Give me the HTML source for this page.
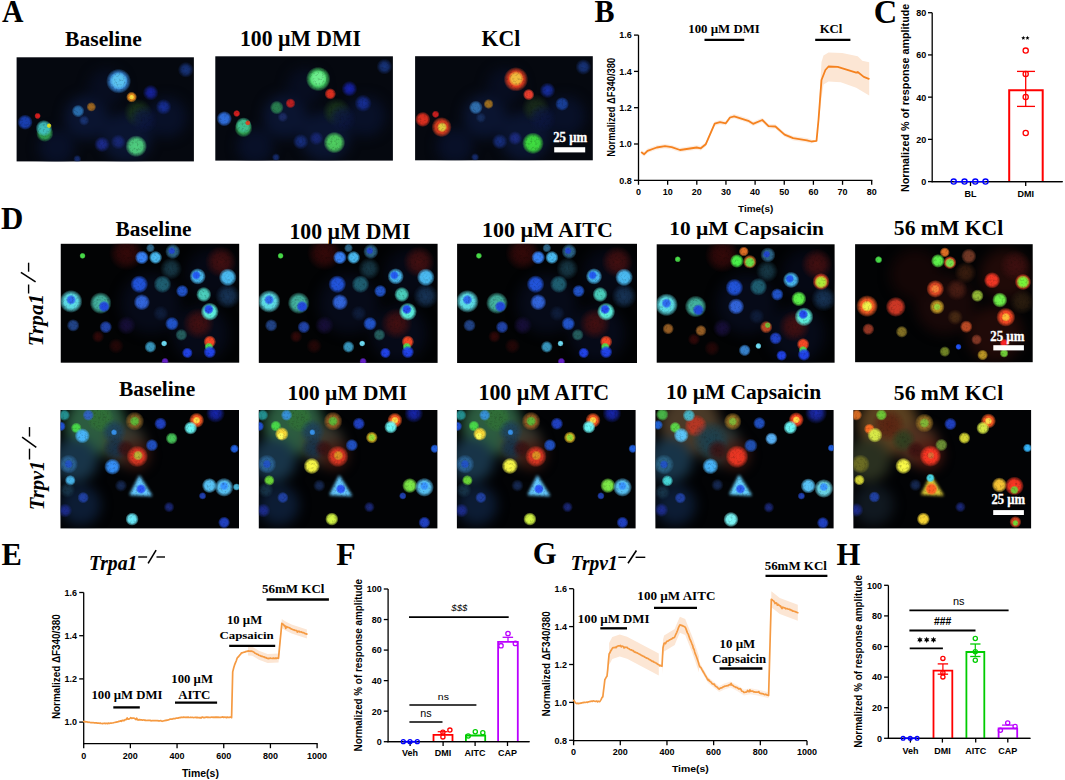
<!DOCTYPE html>
<html><head><meta charset="utf-8"><title>Figure</title>
<style>html,body{margin:0;padding:0;background:#fff;}body{width:1065px;height:780px;overflow:hidden;font-family:"Liberation Sans",sans-serif;}svg{display:block;}</style>
</head><body>
<svg width="1065" height="780" viewBox="0 0 1065 780">
<defs><filter id="bl" x="-20%" y="-20%" width="140%" height="140%" color-interpolation-filters="sRGB"><feGaussianBlur in="SourceGraphic" stdDeviation="0.7" result="b"/><feTurbulence type="fractalNoise" baseFrequency="0.45" numOctaves="2" seed="7" result="n"/><feColorMatrix in="n" type="matrix" values="0 0 0 0.55 0.72  0 0 0 0.55 0.72  0 0 0 0.55 0.72  0 0 0 0 1" result="m"/><feComposite in="b" in2="m" operator="arithmetic" k1="1" k2="0" k3="0" k4="0"/></filter><filter id="blT" x="-30%" y="-30%" width="160%" height="160%" color-interpolation-filters="sRGB"><feGaussianBlur stdDeviation="1.4"/></filter><filter id="blH" x="-50%" y="-50%" width="200%" height="200%" color-interpolation-filters="sRGB"><feGaussianBlur stdDeviation="6"/></filter><radialGradient id="g1c3a1c"><stop offset="0" stop-color="#1c3a1c" stop-opacity="0.9"/><stop offset="0.5" stop-color="#1c3a1c" stop-opacity="0.7"/><stop offset="1" stop-color="#1c3a1c" stop-opacity="0"/></radialGradient><radialGradient id="g0c1640"><stop offset="0" stop-color="#0c1640" stop-opacity="0.9"/><stop offset="0.5" stop-color="#0c1640" stop-opacity="0.7"/><stop offset="1" stop-color="#0c1640" stop-opacity="0"/></radialGradient><radialGradient id="g1a3a8a"><stop offset="0" stop-color="#1a3a8a" stop-opacity="0.9"/><stop offset="0.5" stop-color="#1a3a8a" stop-opacity="0.7"/><stop offset="1" stop-color="#1a3a8a" stop-opacity="0"/></radialGradient><radialGradient id="g3a90e8"><stop offset="0" stop-color="#3a90e8" stop-opacity="1"/><stop offset="0.6" stop-color="#3a90e8" stop-opacity="0.93"/><stop offset="0.84" stop-color="#3a90e8" stop-opacity="0.45"/><stop offset="1" stop-color="#3a90e8" stop-opacity="0"/></radialGradient><radialGradient id="g5cc4f0"><stop offset="0" stop-color="#5cc4f0" stop-opacity="1"/><stop offset="0.6" stop-color="#5cc4f0" stop-opacity="0.93"/><stop offset="0.84" stop-color="#5cc4f0" stop-opacity="0.45"/><stop offset="1" stop-color="#5cc4f0" stop-opacity="0"/></radialGradient><radialGradient id="gf09020"><stop offset="0" stop-color="#f09020" stop-opacity="1"/><stop offset="0.6" stop-color="#f09020" stop-opacity="0.93"/><stop offset="0.84" stop-color="#f09020" stop-opacity="0.45"/><stop offset="1" stop-color="#f09020" stop-opacity="0"/></radialGradient><radialGradient id="gf8e040"><stop offset="0" stop-color="#f8e040" stop-opacity="1"/><stop offset="0.6" stop-color="#f8e040" stop-opacity="0.93"/><stop offset="0.84" stop-color="#f8e040" stop-opacity="0.45"/><stop offset="1" stop-color="#f8e040" stop-opacity="0"/></radialGradient><radialGradient id="g1926b3"><stop offset="0" stop-color="#1926b3" stop-opacity="0.9"/><stop offset="0.5" stop-color="#1926b3" stop-opacity="0.7"/><stop offset="1" stop-color="#1926b3" stop-opacity="0"/></radialGradient><radialGradient id="g1933a6"><stop offset="0" stop-color="#1933a6" stop-opacity="0.9"/><stop offset="0.5" stop-color="#1933a6" stop-opacity="0.7"/><stop offset="1" stop-color="#1933a6" stop-opacity="0"/></radialGradient><radialGradient id="g2a70b0"><stop offset="0" stop-color="#2a70b0" stop-opacity="1"/><stop offset="0.6" stop-color="#2a70b0" stop-opacity="0.93"/><stop offset="0.84" stop-color="#2a70b0" stop-opacity="0.45"/><stop offset="1" stop-color="#2a70b0" stop-opacity="0"/></radialGradient><radialGradient id="ga06820"><stop offset="0" stop-color="#a06820" stop-opacity="1"/><stop offset="0.6" stop-color="#a06820" stop-opacity="0.93"/><stop offset="0.84" stop-color="#a06820" stop-opacity="0.45"/><stop offset="1" stop-color="#a06820" stop-opacity="0"/></radialGradient><radialGradient id="g1c3a80"><stop offset="0" stop-color="#1c3a80" stop-opacity="0.9"/><stop offset="0.5" stop-color="#1c3a80" stop-opacity="0.7"/><stop offset="1" stop-color="#1c3a80" stop-opacity="0"/></radialGradient><radialGradient id="g1940b3"><stop offset="0" stop-color="#1940b3" stop-opacity="1"/><stop offset="0.6" stop-color="#1940b3" stop-opacity="0.93"/><stop offset="0.84" stop-color="#1940b3" stop-opacity="0.45"/><stop offset="1" stop-color="#1940b3" stop-opacity="0"/></radialGradient><radialGradient id="ge02020"><stop offset="0" stop-color="#e02020" stop-opacity="1"/><stop offset="0.6" stop-color="#e02020" stop-opacity="0.93"/><stop offset="0.84" stop-color="#e02020" stop-opacity="0.45"/><stop offset="1" stop-color="#e02020" stop-opacity="0"/></radialGradient><radialGradient id="g30a050"><stop offset="0" stop-color="#30a050" stop-opacity="1"/><stop offset="0.6" stop-color="#30a050" stop-opacity="0.93"/><stop offset="0.84" stop-color="#30a050" stop-opacity="0.45"/><stop offset="1" stop-color="#30a050" stop-opacity="0"/></radialGradient><radialGradient id="g40c0c0"><stop offset="0" stop-color="#40c0c0" stop-opacity="1"/><stop offset="0.6" stop-color="#40c0c0" stop-opacity="0.93"/><stop offset="0.84" stop-color="#40c0c0" stop-opacity="0.45"/><stop offset="1" stop-color="#40c0c0" stop-opacity="0"/></radialGradient><radialGradient id="ge0e020"><stop offset="0" stop-color="#e0e020" stop-opacity="1"/><stop offset="0.6" stop-color="#e0e020" stop-opacity="0.93"/><stop offset="0.84" stop-color="#e0e020" stop-opacity="0.45"/><stop offset="1" stop-color="#e0e020" stop-opacity="0"/></radialGradient><radialGradient id="g50d080"><stop offset="0" stop-color="#50d080" stop-opacity="1"/><stop offset="0.6" stop-color="#50d080" stop-opacity="0.93"/><stop offset="0.84" stop-color="#50d080" stop-opacity="0.45"/><stop offset="1" stop-color="#50d080" stop-opacity="0"/></radialGradient><radialGradient id="g2030a0"><stop offset="0" stop-color="#2030a0" stop-opacity="0.9"/><stop offset="0.5" stop-color="#2030a0" stop-opacity="0.7"/><stop offset="1" stop-color="#2030a0" stop-opacity="0"/></radialGradient><radialGradient id="g1a2a80"><stop offset="0" stop-color="#1a2a80" stop-opacity="0.9"/><stop offset="0.5" stop-color="#1a2a80" stop-opacity="0.7"/><stop offset="1" stop-color="#1a2a80" stop-opacity="0"/></radialGradient><radialGradient id="g193380"><stop offset="0" stop-color="#193380" stop-opacity="0.9"/><stop offset="0.5" stop-color="#193380" stop-opacity="0.7"/><stop offset="1" stop-color="#193380" stop-opacity="0"/></radialGradient><radialGradient id="g48d868"><stop offset="0" stop-color="#48d868" stop-opacity="1"/><stop offset="0.6" stop-color="#48d868" stop-opacity="0.93"/><stop offset="0.84" stop-color="#48d868" stop-opacity="0.45"/><stop offset="1" stop-color="#48d868" stop-opacity="0"/></radialGradient><radialGradient id="g70f090"><stop offset="0" stop-color="#70f090" stop-opacity="1"/><stop offset="0.6" stop-color="#70f090" stop-opacity="0.93"/><stop offset="0.84" stop-color="#70f090" stop-opacity="0.45"/><stop offset="1" stop-color="#70f090" stop-opacity="0"/></radialGradient><radialGradient id="ge03020"><stop offset="0" stop-color="#e03020" stop-opacity="1"/><stop offset="0.6" stop-color="#e03020" stop-opacity="0.93"/><stop offset="0.84" stop-color="#e03020" stop-opacity="0.45"/><stop offset="1" stop-color="#e03020" stop-opacity="0"/></radialGradient><radialGradient id="g1926c0"><stop offset="0" stop-color="#1926c0" stop-opacity="0.9"/><stop offset="0.5" stop-color="#1926c0" stop-opacity="0.7"/><stop offset="1" stop-color="#1926c0" stop-opacity="0"/></radialGradient><radialGradient id="g2a8050"><stop offset="0" stop-color="#2a8050" stop-opacity="1"/><stop offset="0.6" stop-color="#2a8050" stop-opacity="0.93"/><stop offset="0.84" stop-color="#2a8050" stop-opacity="0.45"/><stop offset="1" stop-color="#2a8050" stop-opacity="0"/></radialGradient><radialGradient id="gc02020"><stop offset="0" stop-color="#c02020" stop-opacity="1"/><stop offset="0.6" stop-color="#c02020" stop-opacity="0.93"/><stop offset="0.84" stop-color="#c02020" stop-opacity="0.45"/><stop offset="1" stop-color="#c02020" stop-opacity="0"/></radialGradient><radialGradient id="g203070"><stop offset="0" stop-color="#203070" stop-opacity="0.9"/><stop offset="0.5" stop-color="#203070" stop-opacity="0.7"/><stop offset="1" stop-color="#203070" stop-opacity="0"/></radialGradient><radialGradient id="g3070e0"><stop offset="0" stop-color="#3070e0" stop-opacity="1"/><stop offset="0.6" stop-color="#3070e0" stop-opacity="0.93"/><stop offset="0.84" stop-color="#3070e0" stop-opacity="0.45"/><stop offset="1" stop-color="#3070e0" stop-opacity="0"/></radialGradient><radialGradient id="g40c090"><stop offset="0" stop-color="#40c090" stop-opacity="1"/><stop offset="0.6" stop-color="#40c090" stop-opacity="0.93"/><stop offset="0.84" stop-color="#40c090" stop-opacity="0.45"/><stop offset="1" stop-color="#40c090" stop-opacity="0"/></radialGradient><radialGradient id="ge04020"><stop offset="0" stop-color="#e04020" stop-opacity="1"/><stop offset="0.6" stop-color="#e04020" stop-opacity="0.93"/><stop offset="0.84" stop-color="#e04020" stop-opacity="0.45"/><stop offset="1" stop-color="#e04020" stop-opacity="0"/></radialGradient><radialGradient id="g50d060"><stop offset="0" stop-color="#50d060" stop-opacity="1"/><stop offset="0.6" stop-color="#50d060" stop-opacity="0.93"/><stop offset="0.84" stop-color="#50d060" stop-opacity="0.45"/><stop offset="1" stop-color="#50d060" stop-opacity="0"/></radialGradient><radialGradient id="g19338c"><stop offset="0" stop-color="#19338c" stop-opacity="0.9"/><stop offset="0.5" stop-color="#19338c" stop-opacity="0.7"/><stop offset="1" stop-color="#19338c" stop-opacity="0"/></radialGradient><radialGradient id="g1c301c"><stop offset="0" stop-color="#1c301c" stop-opacity="0.9"/><stop offset="0.5" stop-color="#1c301c" stop-opacity="0.7"/><stop offset="1" stop-color="#1c301c" stop-opacity="0"/></radialGradient><radialGradient id="gf04020"><stop offset="0" stop-color="#f04020" stop-opacity="1"/><stop offset="0.6" stop-color="#f04020" stop-opacity="0.93"/><stop offset="0.84" stop-color="#f04020" stop-opacity="0.45"/><stop offset="1" stop-color="#f04020" stop-opacity="0"/></radialGradient><radialGradient id="gf0c040"><stop offset="0" stop-color="#f0c040" stop-opacity="1"/><stop offset="0.6" stop-color="#f0c040" stop-opacity="0.93"/><stop offset="0.84" stop-color="#f0c040" stop-opacity="0.45"/><stop offset="1" stop-color="#f0c040" stop-opacity="0"/></radialGradient><radialGradient id="gf04030"><stop offset="0" stop-color="#f04030" stop-opacity="1"/><stop offset="0.6" stop-color="#f04030" stop-opacity="0.93"/><stop offset="0.84" stop-color="#f04030" stop-opacity="0.45"/><stop offset="1" stop-color="#f04030" stop-opacity="0"/></radialGradient><radialGradient id="g1933b3"><stop offset="0" stop-color="#1933b3" stop-opacity="0.9"/><stop offset="0.5" stop-color="#1933b3" stop-opacity="0.7"/><stop offset="1" stop-color="#1933b3" stop-opacity="0"/></radialGradient><radialGradient id="g194099"><stop offset="0" stop-color="#194099" stop-opacity="1"/><stop offset="0.6" stop-color="#194099" stop-opacity="0.93"/><stop offset="0.84" stop-color="#194099" stop-opacity="0.45"/><stop offset="1" stop-color="#194099" stop-opacity="0"/></radialGradient><radialGradient id="g3070b0"><stop offset="0" stop-color="#3070b0" stop-opacity="1"/><stop offset="0.6" stop-color="#3070b0" stop-opacity="0.93"/><stop offset="0.84" stop-color="#3070b0" stop-opacity="0.45"/><stop offset="1" stop-color="#3070b0" stop-opacity="0"/></radialGradient><radialGradient id="ga07020"><stop offset="0" stop-color="#a07020" stop-opacity="1"/><stop offset="0.6" stop-color="#a07020" stop-opacity="0.93"/><stop offset="0.84" stop-color="#a07020" stop-opacity="0.45"/><stop offset="1" stop-color="#a07020" stop-opacity="0"/></radialGradient><radialGradient id="g193366"><stop offset="0" stop-color="#193366" stop-opacity="0.9"/><stop offset="0.5" stop-color="#193366" stop-opacity="0.7"/><stop offset="1" stop-color="#193366" stop-opacity="0"/></radialGradient><radialGradient id="gd02020"><stop offset="0" stop-color="#d02020" stop-opacity="1"/><stop offset="0.6" stop-color="#d02020" stop-opacity="0.93"/><stop offset="0.84" stop-color="#d02020" stop-opacity="0.45"/><stop offset="1" stop-color="#d02020" stop-opacity="0"/></radialGradient><radialGradient id="ge0d040"><stop offset="0" stop-color="#e0d040" stop-opacity="1"/><stop offset="0.6" stop-color="#e0d040" stop-opacity="0.93"/><stop offset="0.84" stop-color="#e0d040" stop-opacity="0.45"/><stop offset="1" stop-color="#e0d040" stop-opacity="0"/></radialGradient><radialGradient id="g40e040"><stop offset="0" stop-color="#40e040" stop-opacity="1"/><stop offset="0.6" stop-color="#40e040" stop-opacity="0.93"/><stop offset="0.84" stop-color="#40e040" stop-opacity="0.45"/><stop offset="1" stop-color="#40e040" stop-opacity="0"/></radialGradient><radialGradient id="g203090"><stop offset="0" stop-color="#203090" stop-opacity="0.9"/><stop offset="0.5" stop-color="#203090" stop-opacity="0.7"/><stop offset="1" stop-color="#203090" stop-opacity="0"/></radialGradient><radialGradient id="g3a0a0a"><stop offset="0" stop-color="#3a0a0a" stop-opacity="0.9"/><stop offset="0.5" stop-color="#3a0a0a" stop-opacity="0.7"/><stop offset="1" stop-color="#3a0a0a" stop-opacity="0"/></radialGradient><radialGradient id="g4a1010"><stop offset="0" stop-color="#4a1010" stop-opacity="0.9"/><stop offset="0.5" stop-color="#4a1010" stop-opacity="0.7"/><stop offset="1" stop-color="#4a1010" stop-opacity="0"/></radialGradient><radialGradient id="g2a0808"><stop offset="0" stop-color="#2a0808" stop-opacity="0.9"/><stop offset="0.5" stop-color="#2a0808" stop-opacity="0.7"/><stop offset="1" stop-color="#2a0808" stop-opacity="0"/></radialGradient><radialGradient id="g1a1040"><stop offset="0" stop-color="#1a1040" stop-opacity="0.9"/><stop offset="0.5" stop-color="#1a1040" stop-opacity="0.7"/><stop offset="1" stop-color="#1a1040" stop-opacity="0"/></radialGradient><radialGradient id="g1a4050"><stop offset="0" stop-color="#1a4050" stop-opacity="0.9"/><stop offset="0.5" stop-color="#1a4050" stop-opacity="0.7"/><stop offset="1" stop-color="#1a4050" stop-opacity="0"/></radialGradient><radialGradient id="g1f6073"><stop offset="0" stop-color="#1f6073" stop-opacity="1"/><stop offset="0.6" stop-color="#1f6073" stop-opacity="0.93"/><stop offset="0.84" stop-color="#1f6073" stop-opacity="0.45"/><stop offset="1" stop-color="#1f6073" stop-opacity="0"/></radialGradient><radialGradient id="g1a3a60"><stop offset="0" stop-color="#1a3a60" stop-opacity="0.9"/><stop offset="0.5" stop-color="#1a3a60" stop-opacity="0.7"/><stop offset="1" stop-color="#1a3a60" stop-opacity="0"/></radialGradient><radialGradient id="g102040"><stop offset="0" stop-color="#102040" stop-opacity="0.9"/><stop offset="0.5" stop-color="#102040" stop-opacity="0.7"/><stop offset="1" stop-color="#102040" stop-opacity="0"/></radialGradient><radialGradient id="g60e6f0"><stop offset="0" stop-color="#60e6f0" stop-opacity="1"/><stop offset="0.6" stop-color="#60e6f0" stop-opacity="0.93"/><stop offset="0.84" stop-color="#60e6f0" stop-opacity="0.45"/><stop offset="1" stop-color="#60e6f0" stop-opacity="0"/></radialGradient><radialGradient id="g2d67f1"><stop offset="0" stop-color="#2d67f1" stop-opacity="1"/><stop offset="0.6" stop-color="#2d67f1" stop-opacity="0.93"/><stop offset="0.84" stop-color="#2d67f1" stop-opacity="0.45"/><stop offset="1" stop-color="#2d67f1" stop-opacity="0"/></radialGradient><radialGradient id="g45b6a3"><stop offset="0" stop-color="#45b6a3" stop-opacity="1"/><stop offset="0.6" stop-color="#45b6a3" stop-opacity="0.93"/><stop offset="0.84" stop-color="#45b6a3" stop-opacity="0.45"/><stop offset="1" stop-color="#45b6a3" stop-opacity="0"/></radialGradient><radialGradient id="g2245e0"><stop offset="0" stop-color="#2245e0" stop-opacity="1"/><stop offset="0.6" stop-color="#2245e0" stop-opacity="0.93"/><stop offset="0.84" stop-color="#2245e0" stop-opacity="0.45"/><stop offset="1" stop-color="#2245e0" stop-opacity="0"/></radialGradient><radialGradient id="g4ce64c"><stop offset="0" stop-color="#4ce64c" stop-opacity="1"/><stop offset="0.6" stop-color="#4ce64c" stop-opacity="0.93"/><stop offset="0.84" stop-color="#4ce64c" stop-opacity="0.45"/><stop offset="1" stop-color="#4ce64c" stop-opacity="0"/></radialGradient><radialGradient id="g3986ff"><stop offset="0" stop-color="#3986ff" stop-opacity="1"/><stop offset="0.6" stop-color="#3986ff" stop-opacity="0.93"/><stop offset="0.84" stop-color="#3986ff" stop-opacity="0.45"/><stop offset="1" stop-color="#3986ff" stop-opacity="0"/></radialGradient><radialGradient id="g4cc0f9"><stop offset="0" stop-color="#4cc0f9" stop-opacity="1"/><stop offset="0.6" stop-color="#4cc0f9" stop-opacity="0.93"/><stop offset="0.84" stop-color="#4cc0f9" stop-opacity="0.45"/><stop offset="1" stop-color="#4cc0f9" stop-opacity="0"/></radialGradient><radialGradient id="g2d678a"><stop offset="0" stop-color="#2d678a" stop-opacity="1"/><stop offset="0.6" stop-color="#2d678a" stop-opacity="0.93"/><stop offset="0.84" stop-color="#2d678a" stop-opacity="0.45"/><stop offset="1" stop-color="#2d678a" stop-opacity="0"/></radialGradient><radialGradient id="g2245cf"><stop offset="0" stop-color="#2245cf" stop-opacity="1"/><stop offset="0.6" stop-color="#2245cf" stop-opacity="0.93"/><stop offset="0.84" stop-color="#2245cf" stop-opacity="0.45"/><stop offset="1" stop-color="#2245cf" stop-opacity="0"/></radialGradient><radialGradient id="g2256e0"><stop offset="0" stop-color="#2256e0" stop-opacity="1"/><stop offset="0.6" stop-color="#2256e0" stop-opacity="0.93"/><stop offset="0.84" stop-color="#2256e0" stop-opacity="0.45"/><stop offset="1" stop-color="#2256e0" stop-opacity="0"/></radialGradient><radialGradient id="g3367e0"><stop offset="0" stop-color="#3367e0" stop-opacity="1"/><stop offset="0.6" stop-color="#3367e0" stop-opacity="0.93"/><stop offset="0.84" stop-color="#3367e0" stop-opacity="0.45"/><stop offset="1" stop-color="#3367e0" stop-opacity="0"/></radialGradient><radialGradient id="g2256f1"><stop offset="0" stop-color="#2256f1" stop-opacity="1"/><stop offset="0.6" stop-color="#2256f1" stop-opacity="0.93"/><stop offset="0.84" stop-color="#2256f1" stop-opacity="0.45"/><stop offset="1" stop-color="#2256f1" stop-opacity="0"/></radialGradient><radialGradient id="g2256cf"><stop offset="0" stop-color="#2256cf" stop-opacity="1"/><stop offset="0.6" stop-color="#2256cf" stop-opacity="0.93"/><stop offset="0.84" stop-color="#2256cf" stop-opacity="0.45"/><stop offset="1" stop-color="#2256cf" stop-opacity="0"/></radialGradient><radialGradient id="g4cd3c0"><stop offset="0" stop-color="#4cd3c0" stop-opacity="1"/><stop offset="0.6" stop-color="#4cd3c0" stop-opacity="0.93"/><stop offset="0.84" stop-color="#4cd3c0" stop-opacity="0.45"/><stop offset="1" stop-color="#4cd3c0" stop-opacity="0"/></radialGradient><radialGradient id="g60f9e6"><stop offset="0" stop-color="#60f9e6" stop-opacity="1"/><stop offset="0.6" stop-color="#60f9e6" stop-opacity="0.93"/><stop offset="0.84" stop-color="#60f9e6" stop-opacity="0.45"/><stop offset="1" stop-color="#60f9e6" stop-opacity="0"/></radialGradient><radialGradient id="g2245f1"><stop offset="0" stop-color="#2245f1" stop-opacity="1"/><stop offset="0.6" stop-color="#2245f1" stop-opacity="0.93"/><stop offset="0.84" stop-color="#2245f1" stop-opacity="0.45"/><stop offset="1" stop-color="#2245f1" stop-opacity="0"/></radialGradient><radialGradient id="gff4c26"><stop offset="0" stop-color="#ff4c26" stop-opacity="1"/><stop offset="0.6" stop-color="#ff4c26" stop-opacity="0.93"/><stop offset="0.84" stop-color="#ff4c26" stop-opacity="0.45"/><stop offset="1" stop-color="#ff4c26" stop-opacity="0"/></radialGradient><radialGradient id="g22458a"><stop offset="0" stop-color="#22458a" stop-opacity="1"/><stop offset="0.6" stop-color="#22458a" stop-opacity="0.93"/><stop offset="0.84" stop-color="#22458a" stop-opacity="0.45"/><stop offset="1" stop-color="#22458a" stop-opacity="0"/></radialGradient><radialGradient id="g2245ac"><stop offset="0" stop-color="#2245ac" stop-opacity="1"/><stop offset="0.6" stop-color="#2245ac" stop-opacity="0.93"/><stop offset="0.84" stop-color="#2245ac" stop-opacity="0.45"/><stop offset="1" stop-color="#2245ac" stop-opacity="0"/></radialGradient><radialGradient id="g266060"><stop offset="0" stop-color="#266060" stop-opacity="1"/><stop offset="0.6" stop-color="#266060" stop-opacity="0.93"/><stop offset="0.84" stop-color="#266060" stop-opacity="0.45"/><stop offset="1" stop-color="#266060" stop-opacity="0"/></radialGradient><radialGradient id="g3999c0"><stop offset="0" stop-color="#3999c0" stop-opacity="1"/><stop offset="0.6" stop-color="#3999c0" stop-opacity="0.93"/><stop offset="0.84" stop-color="#3999c0" stop-opacity="0.45"/><stop offset="1" stop-color="#3999c0" stop-opacity="0"/></radialGradient><radialGradient id="g73e6ff"><stop offset="0" stop-color="#73e6ff" stop-opacity="1"/><stop offset="0.6" stop-color="#73e6ff" stop-opacity="0.93"/><stop offset="0.84" stop-color="#73e6ff" stop-opacity="0.45"/><stop offset="1" stop-color="#73e6ff" stop-opacity="0"/></radialGradient><radialGradient id="g6722cf"><stop offset="0" stop-color="#6722cf" stop-opacity="1"/><stop offset="0.6" stop-color="#6722cf" stop-opacity="0.93"/><stop offset="0.84" stop-color="#6722cf" stop-opacity="0.45"/><stop offset="1" stop-color="#6722cf" stop-opacity="0"/></radialGradient><radialGradient id="ge67326"><stop offset="0" stop-color="#e67326" stop-opacity="1"/><stop offset="0.6" stop-color="#e67326" stop-opacity="0.93"/><stop offset="0.84" stop-color="#e67326" stop-opacity="0.45"/><stop offset="1" stop-color="#e67326" stop-opacity="0"/></radialGradient><radialGradient id="g4cf94c"><stop offset="0" stop-color="#4cf94c" stop-opacity="1"/><stop offset="0.6" stop-color="#4cf94c" stop-opacity="0.93"/><stop offset="0.84" stop-color="#4cf94c" stop-opacity="0.45"/><stop offset="1" stop-color="#4cf94c" stop-opacity="0"/></radialGradient><radialGradient id="g60e64c"><stop offset="0" stop-color="#60e64c" stop-opacity="1"/><stop offset="0.6" stop-color="#60e64c" stop-opacity="0.93"/><stop offset="0.84" stop-color="#60e64c" stop-opacity="0.45"/><stop offset="1" stop-color="#60e64c" stop-opacity="0"/></radialGradient><radialGradient id="gf94c26"><stop offset="0" stop-color="#f94c26" stop-opacity="1"/><stop offset="0.6" stop-color="#f94c26" stop-opacity="0.93"/><stop offset="0.84" stop-color="#f94c26" stop-opacity="0.45"/><stop offset="1" stop-color="#f94c26" stop-opacity="0"/></radialGradient><radialGradient id="gacf039"><stop offset="0" stop-color="#acf039" stop-opacity="1"/><stop offset="0.6" stop-color="#acf039" stop-opacity="0.93"/><stop offset="0.84" stop-color="#acf039" stop-opacity="0.45"/><stop offset="1" stop-color="#acf039" stop-opacity="0"/></radialGradient><radialGradient id="g60f94c"><stop offset="0" stop-color="#60f94c" stop-opacity="1"/><stop offset="0.6" stop-color="#60f94c" stop-opacity="0.93"/><stop offset="0.84" stop-color="#60f94c" stop-opacity="0.45"/><stop offset="1" stop-color="#60f94c" stop-opacity="0"/></radialGradient><radialGradient id="g996026"><stop offset="0" stop-color="#996026" stop-opacity="1"/><stop offset="0.6" stop-color="#996026" stop-opacity="0.93"/><stop offset="0.84" stop-color="#996026" stop-opacity="0.45"/><stop offset="1" stop-color="#996026" stop-opacity="0"/></radialGradient><radialGradient id="gc04c26"><stop offset="0" stop-color="#c04c26" stop-opacity="1"/><stop offset="0.6" stop-color="#c04c26" stop-opacity="0.93"/><stop offset="0.84" stop-color="#c04c26" stop-opacity="0.45"/><stop offset="1" stop-color="#c04c26" stop-opacity="0"/></radialGradient><radialGradient id="g73c039"><stop offset="0" stop-color="#73c039" stop-opacity="1"/><stop offset="0.6" stop-color="#73c039" stop-opacity="0.93"/><stop offset="0.84" stop-color="#73c039" stop-opacity="0.45"/><stop offset="1" stop-color="#73c039" stop-opacity="0"/></radialGradient><radialGradient id="g3986d3"><stop offset="0" stop-color="#3986d3" stop-opacity="1"/><stop offset="0.6" stop-color="#3986d3" stop-opacity="0.93"/><stop offset="0.84" stop-color="#3986d3" stop-opacity="0.45"/><stop offset="1" stop-color="#3986d3" stop-opacity="0"/></radialGradient><radialGradient id="g401010"><stop offset="0" stop-color="#401010" stop-opacity="0.9"/><stop offset="0.5" stop-color="#401010" stop-opacity="0.7"/><stop offset="1" stop-color="#401010" stop-opacity="0"/></radialGradient><radialGradient id="g302010"><stop offset="0" stop-color="#302010" stop-opacity="0.9"/><stop offset="0.5" stop-color="#302010" stop-opacity="0.7"/><stop offset="1" stop-color="#302010" stop-opacity="0"/></radialGradient><radialGradient id="g402010"><stop offset="0" stop-color="#402010" stop-opacity="0.9"/><stop offset="0.5" stop-color="#402010" stop-opacity="0.7"/><stop offset="1" stop-color="#402010" stop-opacity="0"/></radialGradient><radialGradient id="g503015"><stop offset="0" stop-color="#503015" stop-opacity="0.9"/><stop offset="0.5" stop-color="#503015" stop-opacity="0.7"/><stop offset="1" stop-color="#503015" stop-opacity="0"/></radialGradient><radialGradient id="g502015"><stop offset="0" stop-color="#502015" stop-opacity="0.9"/><stop offset="0.5" stop-color="#502015" stop-opacity="0.7"/><stop offset="1" stop-color="#502015" stop-opacity="0"/></radialGradient><radialGradient id="g733926"><stop offset="0" stop-color="#733926" stop-opacity="1"/><stop offset="0.6" stop-color="#733926" stop-opacity="0.93"/><stop offset="0.84" stop-color="#733926" stop-opacity="0.45"/><stop offset="1" stop-color="#733926" stop-opacity="0"/></radialGradient><radialGradient id="gff6026"><stop offset="0" stop-color="#ff6026" stop-opacity="1"/><stop offset="0.6" stop-color="#ff6026" stop-opacity="0.93"/><stop offset="0.84" stop-color="#ff6026" stop-opacity="0.45"/><stop offset="1" stop-color="#ff6026" stop-opacity="0"/></radialGradient><radialGradient id="gf0f94c"><stop offset="0" stop-color="#f0f94c" stop-opacity="1"/><stop offset="0.6" stop-color="#f0f94c" stop-opacity="0.93"/><stop offset="0.84" stop-color="#f0f94c" stop-opacity="0.45"/><stop offset="1" stop-color="#f0f94c" stop-opacity="0"/></radialGradient><radialGradient id="gd33926"><stop offset="0" stop-color="#d33926" stop-opacity="1"/><stop offset="0.6" stop-color="#d33926" stop-opacity="0.93"/><stop offset="0.84" stop-color="#d33926" stop-opacity="0.45"/><stop offset="1" stop-color="#d33926" stop-opacity="0"/></radialGradient><radialGradient id="g73e64c"><stop offset="0" stop-color="#73e64c" stop-opacity="1"/><stop offset="0.6" stop-color="#73e64c" stop-opacity="0.93"/><stop offset="0.84" stop-color="#73e64c" stop-opacity="0.45"/><stop offset="1" stop-color="#73e64c" stop-opacity="0"/></radialGradient><radialGradient id="ge64c26"><stop offset="0" stop-color="#e64c26" stop-opacity="1"/><stop offset="0.6" stop-color="#e64c26" stop-opacity="0.93"/><stop offset="0.84" stop-color="#e64c26" stop-opacity="0.45"/><stop offset="1" stop-color="#e64c26" stop-opacity="0"/></radialGradient><radialGradient id="gf98639"><stop offset="0" stop-color="#f98639" stop-opacity="1"/><stop offset="0.6" stop-color="#f98639" stop-opacity="0.93"/><stop offset="0.84" stop-color="#f98639" stop-opacity="0.45"/><stop offset="1" stop-color="#f98639" stop-opacity="0"/></radialGradient><radialGradient id="gc09926"><stop offset="0" stop-color="#c09926" stop-opacity="1"/><stop offset="0.6" stop-color="#c09926" stop-opacity="0.93"/><stop offset="0.84" stop-color="#c09926" stop-opacity="0.45"/><stop offset="1" stop-color="#c09926" stop-opacity="0"/></radialGradient><radialGradient id="g99d339"><stop offset="0" stop-color="#99d339" stop-opacity="1"/><stop offset="0.6" stop-color="#99d339" stop-opacity="0.93"/><stop offset="0.84" stop-color="#99d339" stop-opacity="0.45"/><stop offset="1" stop-color="#99d339" stop-opacity="0"/></radialGradient><radialGradient id="gf93926"><stop offset="0" stop-color="#f93926" stop-opacity="1"/><stop offset="0.6" stop-color="#f93926" stop-opacity="0.93"/><stop offset="0.84" stop-color="#f93926" stop-opacity="0.45"/><stop offset="1" stop-color="#f93926" stop-opacity="0"/></radialGradient><radialGradient id="g73f939"><stop offset="0" stop-color="#73f939" stop-opacity="1"/><stop offset="0.6" stop-color="#73f939" stop-opacity="0.93"/><stop offset="0.84" stop-color="#73f939" stop-opacity="0.45"/><stop offset="1" stop-color="#73f939" stop-opacity="0"/></radialGradient><radialGradient id="g99c039"><stop offset="0" stop-color="#99c039" stop-opacity="1"/><stop offset="0.6" stop-color="#99c039" stop-opacity="0.93"/><stop offset="0.84" stop-color="#99c039" stop-opacity="0.45"/><stop offset="1" stop-color="#99c039" stop-opacity="0"/></radialGradient><radialGradient id="g73f94c"><stop offset="0" stop-color="#73f94c" stop-opacity="1"/><stop offset="0.6" stop-color="#73f94c" stop-opacity="0.93"/><stop offset="0.84" stop-color="#73f94c" stop-opacity="0.45"/><stop offset="1" stop-color="#73f94c" stop-opacity="0"/></radialGradient><radialGradient id="gffc039"><stop offset="0" stop-color="#ffc039" stop-opacity="1"/><stop offset="0.6" stop-color="#ffc039" stop-opacity="0.93"/><stop offset="0.84" stop-color="#ffc039" stop-opacity="0.45"/><stop offset="1" stop-color="#ffc039" stop-opacity="0"/></radialGradient><radialGradient id="g993926"><stop offset="0" stop-color="#993926" stop-opacity="1"/><stop offset="0.6" stop-color="#993926" stop-opacity="0.93"/><stop offset="0.84" stop-color="#993926" stop-opacity="0.45"/><stop offset="1" stop-color="#993926" stop-opacity="0"/></radialGradient><radialGradient id="g867326"><stop offset="0" stop-color="#867326" stop-opacity="1"/><stop offset="0.6" stop-color="#867326" stop-opacity="0.93"/><stop offset="0.84" stop-color="#867326" stop-opacity="0.45"/><stop offset="1" stop-color="#867326" stop-opacity="0"/></radialGradient><radialGradient id="g863926"><stop offset="0" stop-color="#863926" stop-opacity="1"/><stop offset="0.6" stop-color="#863926" stop-opacity="0.93"/><stop offset="0.84" stop-color="#863926" stop-opacity="0.45"/><stop offset="1" stop-color="#863926" stop-opacity="0"/></radialGradient><radialGradient id="g2256ff"><stop offset="0" stop-color="#2256ff" stop-opacity="1"/><stop offset="0.6" stop-color="#2256ff" stop-opacity="0.93"/><stop offset="0.84" stop-color="#2256ff" stop-opacity="0.45"/><stop offset="1" stop-color="#2256ff" stop-opacity="0"/></radialGradient><radialGradient id="g738626"><stop offset="0" stop-color="#738626" stop-opacity="1"/><stop offset="0.6" stop-color="#738626" stop-opacity="0.93"/><stop offset="0.84" stop-color="#738626" stop-opacity="0.45"/><stop offset="1" stop-color="#738626" stop-opacity="0"/></radialGradient><radialGradient id="gff2626"><stop offset="0" stop-color="#ff2626" stop-opacity="1"/><stop offset="0.6" stop-color="#ff2626" stop-opacity="0.93"/><stop offset="0.84" stop-color="#ff2626" stop-opacity="0.45"/><stop offset="1" stop-color="#ff2626" stop-opacity="0"/></radialGradient><radialGradient id="g73d339"><stop offset="0" stop-color="#73d339" stop-opacity="1"/><stop offset="0.6" stop-color="#73d339" stop-opacity="0.93"/><stop offset="0.84" stop-color="#73d339" stop-opacity="0.45"/><stop offset="1" stop-color="#73d339" stop-opacity="0"/></radialGradient><radialGradient id="g306e37"><stop offset="0" stop-color="#306e37" stop-opacity="1"/><stop offset="0.6" stop-color="#306e37" stop-opacity="0.93"/><stop offset="0.84" stop-color="#306e37" stop-opacity="0.45"/><stop offset="1" stop-color="#306e37" stop-opacity="0"/></radialGradient><radialGradient id="g1a4060"><stop offset="0" stop-color="#1a4060" stop-opacity="0.9"/><stop offset="0.5" stop-color="#1a4060" stop-opacity="0.7"/><stop offset="1" stop-color="#1a4060" stop-opacity="0"/></radialGradient><radialGradient id="g15304a"><stop offset="0" stop-color="#15304a" stop-opacity="0.9"/><stop offset="0.5" stop-color="#15304a" stop-opacity="0.7"/><stop offset="1" stop-color="#15304a" stop-opacity="0"/></radialGradient><radialGradient id="g3a1010"><stop offset="0" stop-color="#3a1010" stop-opacity="0.9"/><stop offset="0.5" stop-color="#3a1010" stop-opacity="0.7"/><stop offset="1" stop-color="#3a1010" stop-opacity="0"/></radialGradient><radialGradient id="g249393"><stop offset="0" stop-color="#249393" stop-opacity="1"/><stop offset="0.6" stop-color="#249393" stop-opacity="0.93"/><stop offset="0.84" stop-color="#249393" stop-opacity="0.45"/><stop offset="1" stop-color="#249393" stop-opacity="0"/></radialGradient><radialGradient id="g3163c6"><stop offset="0" stop-color="#3163c6" stop-opacity="1"/><stop offset="0.6" stop-color="#3163c6" stop-opacity="0.93"/><stop offset="0.84" stop-color="#3163c6" stop-opacity="0.45"/><stop offset="1" stop-color="#3163c6" stop-opacity="0"/></radialGradient><radialGradient id="g2152d7"><stop offset="0" stop-color="#2152d7" stop-opacity="1"/><stop offset="0.6" stop-color="#2152d7" stop-opacity="0.93"/><stop offset="0.84" stop-color="#2152d7" stop-opacity="0.45"/><stop offset="1" stop-color="#2152d7" stop-opacity="0"/></radialGradient><radialGradient id="g49dc49"><stop offset="0" stop-color="#49dc49" stop-opacity="1"/><stop offset="0.6" stop-color="#49dc49" stop-opacity="0.93"/><stop offset="0.84" stop-color="#49dc49" stop-opacity="0.45"/><stop offset="1" stop-color="#49dc49" stop-opacity="0"/></radialGradient><radialGradient id="g49b8ff"><stop offset="0" stop-color="#49b8ff" stop-opacity="1"/><stop offset="0.6" stop-color="#49b8ff" stop-opacity="0.93"/><stop offset="0.84" stop-color="#49b8ff" stop-opacity="0.45"/><stop offset="1" stop-color="#49b8ff" stop-opacity="0"/></radialGradient><radialGradient id="g805c24"><stop offset="0" stop-color="#805c24" stop-opacity="1"/><stop offset="0.6" stop-color="#805c24" stop-opacity="0.93"/><stop offset="0.84" stop-color="#805c24" stop-opacity="0.45"/><stop offset="1" stop-color="#805c24" stop-opacity="0"/></radialGradient><radialGradient id="g5cb837"><stop offset="0" stop-color="#5cb837" stop-opacity="1"/><stop offset="0.6" stop-color="#5cb837" stop-opacity="0.93"/><stop offset="0.84" stop-color="#5cb837" stop-opacity="0.45"/><stop offset="1" stop-color="#5cb837" stop-opacity="0"/></radialGradient><radialGradient id="g2142c6"><stop offset="0" stop-color="#2142c6" stop-opacity="1"/><stop offset="0.6" stop-color="#2142c6" stop-opacity="0.93"/><stop offset="0.84" stop-color="#2142c6" stop-opacity="0.45"/><stop offset="1" stop-color="#2142c6" stop-opacity="0"/></radialGradient><radialGradient id="gff5c24"><stop offset="0" stop-color="#ff5c24" stop-opacity="1"/><stop offset="0.6" stop-color="#ff5c24" stop-opacity="0.93"/><stop offset="0.84" stop-color="#ff5c24" stop-opacity="0.45"/><stop offset="1" stop-color="#ff5c24" stop-opacity="0"/></radialGradient><radialGradient id="gffdc49"><stop offset="0" stop-color="#ffdc49" stop-opacity="1"/><stop offset="0.6" stop-color="#ffdc49" stop-opacity="0.93"/><stop offset="0.84" stop-color="#ffdc49" stop-opacity="0.45"/><stop offset="1" stop-color="#ffdc49" stop-opacity="0"/></radialGradient><radialGradient id="g6effff"><stop offset="0" stop-color="#6effff" stop-opacity="1"/><stop offset="0.6" stop-color="#6effff" stop-opacity="0.93"/><stop offset="0.84" stop-color="#6effff" stop-opacity="0.45"/><stop offset="1" stop-color="#6effff" stop-opacity="0"/></radialGradient><radialGradient id="g49ca5c"><stop offset="0" stop-color="#49ca5c" stop-opacity="1"/><stop offset="0.6" stop-color="#49ca5c" stop-opacity="0.93"/><stop offset="0.84" stop-color="#49ca5c" stop-opacity="0.45"/><stop offset="1" stop-color="#49ca5c" stop-opacity="0"/></radialGradient><radialGradient id="g2152c6"><stop offset="0" stop-color="#2152c6" stop-opacity="1"/><stop offset="0.6" stop-color="#2152c6" stop-opacity="0.93"/><stop offset="0.84" stop-color="#2152c6" stop-opacity="0.45"/><stop offset="1" stop-color="#2152c6" stop-opacity="0"/></radialGradient><radialGradient id="gdc3724"><stop offset="0" stop-color="#dc3724" stop-opacity="1"/><stop offset="0.6" stop-color="#dc3724" stop-opacity="0.93"/><stop offset="0.84" stop-color="#dc3724" stop-opacity="0.45"/><stop offset="1" stop-color="#dc3724" stop-opacity="0"/></radialGradient><radialGradient id="gb8b837"><stop offset="0" stop-color="#b8b837" stop-opacity="1"/><stop offset="0.6" stop-color="#b8b837" stop-opacity="0.93"/><stop offset="0.84" stop-color="#b8b837" stop-opacity="0.45"/><stop offset="1" stop-color="#b8b837" stop-opacity="0"/></radialGradient><radialGradient id="g3793ff"><stop offset="0" stop-color="#3793ff" stop-opacity="1"/><stop offset="0.6" stop-color="#3793ff" stop-opacity="0.93"/><stop offset="0.84" stop-color="#3793ff" stop-opacity="0.45"/><stop offset="1" stop-color="#3793ff" stop-opacity="0"/></radialGradient><radialGradient id="g3793ef"><stop offset="0" stop-color="#3793ef" stop-opacity="1"/><stop offset="0.6" stop-color="#3793ef" stop-opacity="0.93"/><stop offset="0.84" stop-color="#3793ef" stop-opacity="0.45"/><stop offset="1" stop-color="#3793ef" stop-opacity="0"/></radialGradient><radialGradient id="g2b6395"><stop offset="0" stop-color="#2b6395" stop-opacity="1"/><stop offset="0.6" stop-color="#2b6395" stop-opacity="0.93"/><stop offset="0.84" stop-color="#2b6395" stop-opacity="0.45"/><stop offset="1" stop-color="#2b6395" stop-opacity="0"/></radialGradient><radialGradient id="g49b8ef"><stop offset="0" stop-color="#49b8ef" stop-opacity="1"/><stop offset="0.6" stop-color="#49b8ef" stop-opacity="0.93"/><stop offset="0.84" stop-color="#49b8ef" stop-opacity="0.45"/><stop offset="1" stop-color="#49b8ef" stop-opacity="0"/></radialGradient><radialGradient id="g1a3060"><stop offset="0" stop-color="#1a3060" stop-opacity="0.9"/><stop offset="0.5" stop-color="#1a3060" stop-opacity="0.7"/><stop offset="1" stop-color="#1a3060" stop-opacity="0"/></radialGradient><radialGradient id="g2952f8"><stop offset="0" stop-color="#2952f8" stop-opacity="1"/><stop offset="0.6" stop-color="#2952f8" stop-opacity="0.93"/><stop offset="0.84" stop-color="#2952f8" stop-opacity="0.45"/><stop offset="1" stop-color="#2952f8" stop-opacity="0"/></radialGradient><radialGradient id="g2142a5"><stop offset="0" stop-color="#2142a5" stop-opacity="1"/><stop offset="0.6" stop-color="#2142a5" stop-opacity="0.93"/><stop offset="0.84" stop-color="#2142a5" stop-opacity="0.45"/><stop offset="1" stop-color="#2142a5" stop-opacity="0"/></radialGradient><radialGradient id="g1a3a50"><stop offset="0" stop-color="#1a3a50" stop-opacity="0.9"/><stop offset="0.5" stop-color="#1a3a50" stop-opacity="0.7"/><stop offset="1" stop-color="#1a3a50" stop-opacity="0"/></radialGradient><radialGradient id="g6eefff"><stop offset="0" stop-color="#6eefff" stop-opacity="1"/><stop offset="0.6" stop-color="#6eefff" stop-opacity="0.93"/><stop offset="0.84" stop-color="#6eefff" stop-opacity="0.45"/><stop offset="1" stop-color="#6eefff" stop-opacity="0"/></radialGradient><radialGradient id="g5ccaff"><stop offset="0" stop-color="#5ccaff" stop-opacity="1"/><stop offset="0.6" stop-color="#5ccaff" stop-opacity="0.93"/><stop offset="0.84" stop-color="#5ccaff" stop-opacity="0.45"/><stop offset="1" stop-color="#5ccaff" stop-opacity="0"/></radialGradient><radialGradient id="g2163e7"><stop offset="0" stop-color="#2163e7" stop-opacity="1"/><stop offset="0.6" stop-color="#2163e7" stop-opacity="0.93"/><stop offset="0.84" stop-color="#2163e7" stop-opacity="0.45"/><stop offset="1" stop-color="#2163e7" stop-opacity="0"/></radialGradient><radialGradient id="g1a2ac0"><stop offset="0" stop-color="#1a2ac0" stop-opacity="0.9"/><stop offset="0.5" stop-color="#1a2ac0" stop-opacity="0.7"/><stop offset="1" stop-color="#1a2ac0" stop-opacity="0"/></radialGradient><radialGradient id="g2142b6"><stop offset="0" stop-color="#2142b6" stop-opacity="1"/><stop offset="0.6" stop-color="#2142b6" stop-opacity="0.93"/><stop offset="0.84" stop-color="#2142b6" stop-opacity="0.45"/><stop offset="1" stop-color="#2142b6" stop-opacity="0"/></radialGradient><radialGradient id="g49b8dc"><stop offset="0" stop-color="#49b8dc" stop-opacity="1"/><stop offset="0.6" stop-color="#49b8dc" stop-opacity="0.93"/><stop offset="0.84" stop-color="#49b8dc" stop-opacity="0.45"/><stop offset="1" stop-color="#49b8dc" stop-opacity="0"/></radialGradient><radialGradient id="g3793dc"><stop offset="0" stop-color="#3793dc" stop-opacity="1"/><stop offset="0.6" stop-color="#3793dc" stop-opacity="0.93"/><stop offset="0.84" stop-color="#3793dc" stop-opacity="0.45"/><stop offset="1" stop-color="#3793dc" stop-opacity="0"/></radialGradient><radialGradient id="gffdc37"><stop offset="0" stop-color="#ffdc37" stop-opacity="1"/><stop offset="0.6" stop-color="#ffdc37" stop-opacity="0.93"/><stop offset="0.84" stop-color="#ffdc37" stop-opacity="0.45"/><stop offset="1" stop-color="#ffdc37" stop-opacity="0"/></radialGradient><radialGradient id="gffff5c"><stop offset="0" stop-color="#ffff5c" stop-opacity="1"/><stop offset="0.6" stop-color="#ffff5c" stop-opacity="0.93"/><stop offset="0.84" stop-color="#ffff5c" stop-opacity="0.45"/><stop offset="1" stop-color="#ffff5c" stop-opacity="0"/></radialGradient><radialGradient id="g935c24"><stop offset="0" stop-color="#935c24" stop-opacity="1"/><stop offset="0.6" stop-color="#935c24" stop-opacity="0.93"/><stop offset="0.84" stop-color="#935c24" stop-opacity="0.45"/><stop offset="1" stop-color="#935c24" stop-opacity="0"/></radialGradient><radialGradient id="gdcb824"><stop offset="0" stop-color="#dcb824" stop-opacity="1"/><stop offset="0.6" stop-color="#dcb824" stop-opacity="0.93"/><stop offset="0.84" stop-color="#dcb824" stop-opacity="0.45"/><stop offset="1" stop-color="#dcb824" stop-opacity="0"/></radialGradient><radialGradient id="g93dc37"><stop offset="0" stop-color="#93dc37" stop-opacity="1"/><stop offset="0.6" stop-color="#93dc37" stop-opacity="0.93"/><stop offset="0.84" stop-color="#93dc37" stop-opacity="0.45"/><stop offset="1" stop-color="#93dc37" stop-opacity="0"/></radialGradient><radialGradient id="gdc9324"><stop offset="0" stop-color="#dc9324" stop-opacity="1"/><stop offset="0.6" stop-color="#dc9324" stop-opacity="0.93"/><stop offset="0.84" stop-color="#dc9324" stop-opacity="0.45"/><stop offset="1" stop-color="#dc9324" stop-opacity="0"/></radialGradient><radialGradient id="gffff49"><stop offset="0" stop-color="#ffff49" stop-opacity="1"/><stop offset="0.6" stop-color="#ffff49" stop-opacity="0.93"/><stop offset="0.84" stop-color="#ffff49" stop-opacity="0.45"/><stop offset="1" stop-color="#ffff49" stop-opacity="0"/></radialGradient><radialGradient id="g6edc37"><stop offset="0" stop-color="#6edc37" stop-opacity="1"/><stop offset="0.6" stop-color="#6edc37" stop-opacity="0.93"/><stop offset="0.84" stop-color="#6edc37" stop-opacity="0.45"/><stop offset="1" stop-color="#6edc37" stop-opacity="0"/></radialGradient><radialGradient id="gdcff49"><stop offset="0" stop-color="#dcff49" stop-opacity="1"/><stop offset="0.6" stop-color="#dcff49" stop-opacity="0.93"/><stop offset="0.84" stop-color="#dcff49" stop-opacity="0.45"/><stop offset="1" stop-color="#dcff49" stop-opacity="0"/></radialGradient><radialGradient id="g80ef49"><stop offset="0" stop-color="#80ef49" stop-opacity="1"/><stop offset="0.6" stop-color="#80ef49" stop-opacity="0.93"/><stop offset="0.84" stop-color="#80ef49" stop-opacity="0.45"/><stop offset="1" stop-color="#80ef49" stop-opacity="0"/></radialGradient><radialGradient id="gb83724"><stop offset="0" stop-color="#b83724" stop-opacity="1"/><stop offset="0.6" stop-color="#b83724" stop-opacity="0.93"/><stop offset="0.84" stop-color="#b83724" stop-opacity="0.45"/><stop offset="1" stop-color="#b83724" stop-opacity="0"/></radialGradient><radialGradient id="g49b849"><stop offset="0" stop-color="#49b849" stop-opacity="1"/><stop offset="0.6" stop-color="#49b849" stop-opacity="0.93"/><stop offset="0.84" stop-color="#49b849" stop-opacity="0.45"/><stop offset="1" stop-color="#49b849" stop-opacity="0"/></radialGradient><radialGradient id="g49b8ca"><stop offset="0" stop-color="#49b8ca" stop-opacity="1"/><stop offset="0.6" stop-color="#49b8ca" stop-opacity="0.93"/><stop offset="0.84" stop-color="#49b8ca" stop-opacity="0.45"/><stop offset="1" stop-color="#49b8ca" stop-opacity="0"/></radialGradient><radialGradient id="g2163d7"><stop offset="0" stop-color="#2163d7" stop-opacity="1"/><stop offset="0.6" stop-color="#2163d7" stop-opacity="0.93"/><stop offset="0.84" stop-color="#2163d7" stop-opacity="0.45"/><stop offset="1" stop-color="#2163d7" stop-opacity="0"/></radialGradient><radialGradient id="g5cdc49"><stop offset="0" stop-color="#5cdc49" stop-opacity="1"/><stop offset="0.6" stop-color="#5cdc49" stop-opacity="0.93"/><stop offset="0.84" stop-color="#5cdc49" stop-opacity="0.45"/><stop offset="1" stop-color="#5cdc49" stop-opacity="0"/></radialGradient><radialGradient id="g936e24"><stop offset="0" stop-color="#936e24" stop-opacity="1"/><stop offset="0.6" stop-color="#936e24" stop-opacity="0.93"/><stop offset="0.84" stop-color="#936e24" stop-opacity="0.45"/><stop offset="1" stop-color="#936e24" stop-opacity="0"/></radialGradient><radialGradient id="g80b837"><stop offset="0" stop-color="#80b837" stop-opacity="1"/><stop offset="0.6" stop-color="#80b837" stop-opacity="0.93"/><stop offset="0.84" stop-color="#80b837" stop-opacity="0.45"/><stop offset="1" stop-color="#80b837" stop-opacity="0"/></radialGradient><radialGradient id="gff4924"><stop offset="0" stop-color="#ff4924" stop-opacity="1"/><stop offset="0.6" stop-color="#ff4924" stop-opacity="0.93"/><stop offset="0.84" stop-color="#ff4924" stop-opacity="0.45"/><stop offset="1" stop-color="#ff4924" stop-opacity="0"/></radialGradient><radialGradient id="g5cb8ff"><stop offset="0" stop-color="#5cb8ff" stop-opacity="1"/><stop offset="0.6" stop-color="#5cb8ff" stop-opacity="0.93"/><stop offset="0.84" stop-color="#5cb8ff" stop-opacity="0.45"/><stop offset="1" stop-color="#5cb8ff" stop-opacity="0"/></radialGradient><radialGradient id="g2152b6"><stop offset="0" stop-color="#2152b6" stop-opacity="1"/><stop offset="0.6" stop-color="#2152b6" stop-opacity="0.93"/><stop offset="0.84" stop-color="#2152b6" stop-opacity="0.45"/><stop offset="1" stop-color="#2152b6" stop-opacity="0"/></radialGradient><radialGradient id="gef3724"><stop offset="0" stop-color="#ef3724" stop-opacity="1"/><stop offset="0.6" stop-color="#ef3724" stop-opacity="0.93"/><stop offset="0.84" stop-color="#ef3724" stop-opacity="0.45"/><stop offset="1" stop-color="#ef3724" stop-opacity="0"/></radialGradient><radialGradient id="g2b6384"><stop offset="0" stop-color="#2b6384" stop-opacity="1"/><stop offset="0.6" stop-color="#2b6384" stop-opacity="0.93"/><stop offset="0.84" stop-color="#2b6384" stop-opacity="0.45"/><stop offset="1" stop-color="#2b6384" stop-opacity="0"/></radialGradient><radialGradient id="g49dcdc"><stop offset="0" stop-color="#49dcdc" stop-opacity="1"/><stop offset="0.6" stop-color="#49dcdc" stop-opacity="0.93"/><stop offset="0.84" stop-color="#49dcdc" stop-opacity="0.45"/><stop offset="1" stop-color="#49dcdc" stop-opacity="0"/></radialGradient><radialGradient id="g295bf0"><stop offset="0" stop-color="#295bf0" stop-opacity="1"/><stop offset="0.6" stop-color="#295bf0" stop-opacity="0.93"/><stop offset="0.84" stop-color="#295bf0" stop-opacity="0.45"/><stop offset="1" stop-color="#295bf0" stop-opacity="0"/></radialGradient><radialGradient id="g80ffff"><stop offset="0" stop-color="#80ffff" stop-opacity="1"/><stop offset="0.6" stop-color="#80ffff" stop-opacity="0.93"/><stop offset="0.84" stop-color="#80ffff" stop-opacity="0.45"/><stop offset="1" stop-color="#80ffff" stop-opacity="0"/></radialGradient><radialGradient id="g6edcef"><stop offset="0" stop-color="#6edcef" stop-opacity="1"/><stop offset="0.6" stop-color="#6edcef" stop-opacity="0.93"/><stop offset="0.84" stop-color="#6edcef" stop-opacity="0.45"/><stop offset="1" stop-color="#6edcef" stop-opacity="0"/></radialGradient><radialGradient id="g2030c0"><stop offset="0" stop-color="#2030c0" stop-opacity="0.9"/><stop offset="0.5" stop-color="#2030c0" stop-opacity="0.7"/><stop offset="1" stop-color="#2030c0" stop-opacity="0"/></radialGradient><radialGradient id="g5a2010"><stop offset="0" stop-color="#5a2010" stop-opacity="0.9"/><stop offset="0.5" stop-color="#5a2010" stop-opacity="0.7"/><stop offset="1" stop-color="#5a2010" stop-opacity="0"/></radialGradient><radialGradient id="g2a4020"><stop offset="0" stop-color="#2a4020" stop-opacity="0.9"/><stop offset="0.5" stop-color="#2a4020" stop-opacity="0.7"/><stop offset="1" stop-color="#2a4020" stop-opacity="0"/></radialGradient><radialGradient id="gdc6e24"><stop offset="0" stop-color="#dc6e24" stop-opacity="1"/><stop offset="0.6" stop-color="#dc6e24" stop-opacity="0.93"/><stop offset="0.84" stop-color="#dc6e24" stop-opacity="0.45"/><stop offset="1" stop-color="#dc6e24" stop-opacity="0"/></radialGradient><radialGradient id="g6eca37"><stop offset="0" stop-color="#6eca37" stop-opacity="1"/><stop offset="0.6" stop-color="#6eca37" stop-opacity="0.93"/><stop offset="0.84" stop-color="#6eca37" stop-opacity="0.45"/><stop offset="1" stop-color="#6eca37" stop-opacity="0"/></radialGradient><radialGradient id="gff6e24"><stop offset="0" stop-color="#ff6e24" stop-opacity="1"/><stop offset="0.6" stop-color="#ff6e24" stop-opacity="0.93"/><stop offset="0.84" stop-color="#ff6e24" stop-opacity="0.45"/><stop offset="1" stop-color="#ff6e24" stop-opacity="0"/></radialGradient><radialGradient id="gdcef49"><stop offset="0" stop-color="#dcef49" stop-opacity="1"/><stop offset="0.6" stop-color="#dcef49" stop-opacity="0.93"/><stop offset="0.84" stop-color="#dcef49" stop-opacity="0.45"/><stop offset="1" stop-color="#dcef49" stop-opacity="0"/></radialGradient><radialGradient id="gdcdc37"><stop offset="0" stop-color="#dcdc37" stop-opacity="1"/><stop offset="0.6" stop-color="#dcdc37" stop-opacity="0.93"/><stop offset="0.84" stop-color="#dcdc37" stop-opacity="0.45"/><stop offset="1" stop-color="#dcdc37" stop-opacity="0"/></radialGradient><radialGradient id="g6e9337"><stop offset="0" stop-color="#6e9337" stop-opacity="1"/><stop offset="0.6" stop-color="#6e9337" stop-opacity="0.93"/><stop offset="0.84" stop-color="#6e9337" stop-opacity="0.45"/><stop offset="1" stop-color="#6e9337" stop-opacity="0"/></radialGradient><radialGradient id="gff3724"><stop offset="0" stop-color="#ff3724" stop-opacity="1"/><stop offset="0.6" stop-color="#ff3724" stop-opacity="0.93"/><stop offset="0.84" stop-color="#ff3724" stop-opacity="0.45"/><stop offset="1" stop-color="#ff3724" stop-opacity="0"/></radialGradient><radialGradient id="gdc6e37"><stop offset="0" stop-color="#dc6e37" stop-opacity="1"/><stop offset="0.6" stop-color="#dc6e37" stop-opacity="0.93"/><stop offset="0.84" stop-color="#dc6e37" stop-opacity="0.45"/><stop offset="1" stop-color="#dc6e37" stop-opacity="0"/></radialGradient><radialGradient id="g6e6e24"><stop offset="0" stop-color="#6e6e24" stop-opacity="1"/><stop offset="0.6" stop-color="#6e6e24" stop-opacity="0.93"/><stop offset="0.84" stop-color="#6e6e24" stop-opacity="0.45"/><stop offset="1" stop-color="#6e6e24" stop-opacity="0"/></radialGradient><radialGradient id="g49dcef"><stop offset="0" stop-color="#49dcef" stop-opacity="1"/><stop offset="0.6" stop-color="#49dcef" stop-opacity="0.93"/><stop offset="0.84" stop-color="#49dcef" stop-opacity="0.45"/><stop offset="1" stop-color="#49dcef" stop-opacity="0"/></radialGradient><radialGradient id="gffca37"><stop offset="0" stop-color="#ffca37" stop-opacity="1"/><stop offset="0.6" stop-color="#ffca37" stop-opacity="0.93"/><stop offset="0.84" stop-color="#ffca37" stop-opacity="0.45"/><stop offset="1" stop-color="#ffca37" stop-opacity="0"/></radialGradient><radialGradient id="g37b8ff"><stop offset="0" stop-color="#37b8ff" stop-opacity="1"/><stop offset="0.6" stop-color="#37b8ff" stop-opacity="0.93"/><stop offset="0.84" stop-color="#37b8ff" stop-opacity="0.45"/><stop offset="1" stop-color="#37b8ff" stop-opacity="0"/></radialGradient><radialGradient id="gdc4924"><stop offset="0" stop-color="#dc4924" stop-opacity="1"/><stop offset="0.6" stop-color="#dc4924" stop-opacity="0.93"/><stop offset="0.84" stop-color="#dc4924" stop-opacity="0.45"/><stop offset="1" stop-color="#dc4924" stop-opacity="0"/></radialGradient></defs>
<rect width="{W}" height="{H}" fill="#fff"/>
<text x="0" y="0" font-family="'Liberation Serif', serif" font-size="31.364" font-weight="bold" fill="#000" transform="translate(1.90 22.00) scale(0.9474 1)">A</text>
<text x="0" y="0" font-family="'Liberation Serif', serif" font-size="21.884" font-weight="bold" fill="#000" transform="translate(65.07 46.00) scale(0.9868 1)">Baseline</text>
<clipPath id="c1"><rect x="16.6" y="57.3" width="177.3" height="104.1"/></clipPath>
<rect x="16.6" y="57.3" width="177.3" height="104.1" fill="#05080f"/>
<g clip-path="url(#c1)"><g filter="url(#blH)" transform="translate(16.6 57.3)">
<circle cx="70" cy="60" r="22" fill="#0a1430"/>
<circle cx="110" cy="80" r="25" fill="#0a1430"/>
<circle cx="40" cy="90" r="18" fill="#081028"/>
<circle cx="150" cy="60" r="20" fill="#081028"/>
<circle cx="90" cy="30" r="18" fill="#070d20"/>
</g>
<g filter="url(#bl)" transform="translate(16.6 57.3)">
<circle cx="121.3" cy="55.5" r="14.4" fill="url(#g1c3a1c)"/>
<circle cx="127" cy="62" r="14.4" fill="url(#g0c1640)"/>
<circle cx="169.2" cy="12.5" r="8.0" fill="url(#g1a3a8a)"/>
<circle cx="102" cy="23.9" r="12.5" fill="url(#g3a90e8)"/>
<circle cx="102" cy="23.5" r="9.0" fill="url(#g5cc4f0)"/>
<circle cx="115" cy="39.8" r="5.5" fill="url(#gf09020)"/>
<circle cx="115" cy="39.8" r="2.6" fill="url(#gf8e040)"/>
<circle cx="134.1" cy="35.4" r="8.0" fill="url(#g1926b3)"/>
<circle cx="147" cy="49.6" r="8.0" fill="url(#g1933a6)"/>
<circle cx="61.5" cy="53.8" r="6.4" fill="url(#g2a70b0)"/>
<circle cx="74.7" cy="49.6" r="4.9" fill="url(#ga06820)"/>
<circle cx="67.5" cy="63.2" r="5.4" fill="url(#g1c3a80)"/>
<circle cx="8.5" cy="64.9" r="7.7" fill="url(#g1940b3)"/>
<circle cx="21" cy="58.6" r="3.3" fill="url(#ge02020)"/>
<circle cx="28.2" cy="76" r="8.7" fill="url(#g30a050)"/>
<circle cx="27.3" cy="70.9" r="8.3" fill="url(#g40c0c0)"/>
<circle cx="32.5" cy="68.4" r="2.6" fill="url(#ge0e020)"/>
<circle cx="119.6" cy="88.9" r="10.9" fill="url(#g50d080)"/>
<circle cx="85.4" cy="87.1" r="8.0" fill="url(#g2030a0)"/>
<circle cx="101.7" cy="84.6" r="7.7" fill="url(#g1a2a80)"/>
<circle cx="60.7" cy="101.7" r="4.2" fill="url(#g193380)"/>
</g></g>
<text x="0" y="0" font-family="'Liberation Serif', serif" font-size="23.182" font-weight="bold" fill="#000" transform="translate(239.96 45.80) scale(0.9362 1)">100 µM DMI</text>
<clipPath id="c2"><rect x="215.3" y="56.3" width="177.6" height="104.3"/></clipPath>
<rect x="215.3" y="56.3" width="177.6" height="104.3" fill="#05080f"/>
<g clip-path="url(#c2)"><g filter="url(#blH)" transform="translate(215.3 56.3)">
<circle cx="70" cy="60" r="22" fill="#0a1430"/>
<circle cx="110" cy="80" r="25" fill="#0a1430"/>
<circle cx="40" cy="90" r="18" fill="#081028"/>
<circle cx="150" cy="60" r="20" fill="#081028"/>
<circle cx="90" cy="30" r="18" fill="#070d20"/>
</g>
<g filter="url(#bl)" transform="translate(215.3 56.3)">
<circle cx="121.3" cy="55.5" r="14.4" fill="url(#g1c3a1c)"/>
<circle cx="127" cy="62" r="14.4" fill="url(#g0c1640)"/>
<circle cx="169.2" cy="10.3" r="8.0" fill="url(#g1a3a8a)"/>
<circle cx="102.9" cy="22.7" r="12.3" fill="url(#g48d868)"/>
<circle cx="102.9" cy="22.2" r="8.3" fill="url(#g70f090)"/>
<circle cx="115" cy="37.6" r="5.8" fill="url(#ge03020)"/>
<circle cx="134.1" cy="32.5" r="8.0" fill="url(#g1926c0)"/>
<circle cx="147.8" cy="47" r="8.8" fill="url(#g1933a6)"/>
<circle cx="61.5" cy="51.3" r="7.0" fill="url(#g2a8050)"/>
<circle cx="75.2" cy="47" r="5.1" fill="url(#gc02020)"/>
<circle cx="67.5" cy="60.7" r="5.4" fill="url(#g203070)"/>
<circle cx="9" cy="62.4" r="7.7" fill="url(#g3070e0)"/>
<circle cx="21.4" cy="57.2" r="3.6" fill="url(#ge02020)"/>
<circle cx="28.2" cy="72" r="9.0" fill="url(#g30a050)"/>
<circle cx="28.2" cy="69.2" r="8.3" fill="url(#g40c090)"/>
<circle cx="32.5" cy="66.6" r="2.8" fill="url(#ge04020)"/>
<circle cx="119.1" cy="86.3" r="10.9" fill="url(#g50d060)"/>
<circle cx="85.4" cy="85.4" r="8.0" fill="url(#g19338c)"/>
<circle cx="101" cy="82" r="7.2" fill="url(#g1a2a80)"/>
<circle cx="60.7" cy="101" r="4.2" fill="url(#g193380)"/>
</g></g>
<text x="0" y="0" font-family="'Liberation Serif', serif" font-size="22.464" font-weight="bold" fill="#000" transform="translate(481.56 45.90) scale(0.9696 1)">KCl</text>
<clipPath id="c3"><rect x="415.1" y="56.2" width="177.7" height="104.1"/></clipPath>
<rect x="415.1" y="56.2" width="177.7" height="104.1" fill="#05080f"/>
<g clip-path="url(#c3)"><g filter="url(#blH)" transform="translate(415.1 56.2)">
<circle cx="70" cy="60" r="22" fill="#0a1430"/>
<circle cx="110" cy="80" r="25" fill="#0a1430"/>
<circle cx="40" cy="90" r="18" fill="#081028"/>
<circle cx="150" cy="60" r="20" fill="#081028"/>
<circle cx="90" cy="30" r="18" fill="#070d20"/>
</g>
<g filter="url(#bl)" transform="translate(415.1 56.2)">
<circle cx="120.5" cy="52.1" r="14.4" fill="url(#g1c301c)"/>
<circle cx="127" cy="62" r="14.4" fill="url(#g0c1640)"/>
<circle cx="168.3" cy="10.8" r="8.0" fill="url(#g1a3a8a)"/>
<circle cx="100.8" cy="23.1" r="12.3" fill="url(#gf04020)"/>
<circle cx="101" cy="22.5" r="7.7" fill="url(#gf0c040)"/>
<circle cx="113.6" cy="38.4" r="5.8" fill="url(#gf04030)"/>
<circle cx="132.4" cy="34.2" r="8.0" fill="url(#g1933b3)"/>
<circle cx="147" cy="47.8" r="7.0" fill="url(#g194099)"/>
<circle cx="60.7" cy="51.3" r="7.0" fill="url(#g3070b0)"/>
<circle cx="73.5" cy="47.8" r="5.1" fill="url(#ga07020)"/>
<circle cx="65.8" cy="61.5" r="5.4" fill="url(#g193366)"/>
<circle cx="7.7" cy="63.2" r="7.7" fill="url(#ge03020)"/>
<circle cx="20.5" cy="58.1" r="3.8" fill="url(#gd02020)"/>
<circle cx="26.5" cy="70.9" r="10.2" fill="url(#ge04020)"/>
<circle cx="27" cy="71" r="5.1" fill="url(#ge0d040)"/>
<circle cx="117.9" cy="87.1" r="10.9" fill="url(#g40e040)"/>
<circle cx="84.6" cy="85.4" r="8.0" fill="url(#g19338c)"/>
<circle cx="100" cy="82" r="7.2" fill="url(#g203090)"/>
<circle cx="60" cy="101" r="4.2" fill="url(#g193380)"/>
</g></g>
<text x="0" y="0" font-family="'Liberation Serif', serif" font-size="14.000" font-weight="bold" stroke="#fff" stroke-width="0.35" fill="#fff" transform="translate(553.19 141.80) scale(0.9148 1)">25 µm</text>
<rect x="554.2" y="147.2" width="31.0" height="5.200000000000017" fill="#fff" stroke="none" stroke-width="1"/>
<text x="0" y="0" font-family="'Liberation Serif', serif" font-size="31.692" font-weight="bold" fill="#000" transform="translate(594.60 21.80) scale(0.9466 1)">B</text>
<polygon points="818.5,115.0 821.5,62.0 823.5,55.4 828.5,52.6 842.3,53.0 857.7,56.2 862.3,60.8 869.2,62.3 869.2,95.4 856.2,87.7 840.8,82.3 828.5,81.5 823.5,84.6 821.5,98.0 818.5,125.0" fill="#FCE6D4" stroke="none"/>
<polygon points="641.7,150.3 644.2,152.0 647.5,148.6 656.7,145.3 665.0,144.0 671.7,145.0 680.0,147.8 696.7,145.3 700.8,146.1 705.8,142.0 714.7,121.5 720.0,120.0 725.8,121.1 730.0,115.3 734.2,114.1 748.3,118.6 753.1,121.6 762.3,117.8 768.5,124.0 775.4,124.3 784.6,132.4 793.1,136.0 806.9,138.1 811.5,139.3 811.5,143.7 806.9,142.5 793.1,140.4 784.6,136.8 775.4,128.7 768.5,128.4 762.3,122.2 753.1,126.0 748.3,123.0 734.2,118.5 730.0,119.7 725.8,125.5 720.0,124.4 714.7,125.9 705.8,146.4 700.8,150.5 696.7,149.7 680.0,152.2 671.7,149.4 665.0,148.4 656.7,149.7 647.5,153.0 644.2,156.4 641.7,154.7" fill="#FDEEE2" stroke="none"/>
<polyline points="641.7,152.5 644.2,154.2 647.5,150.8 656.7,147.5 665.0,146.2 671.7,147.2 680.0,150.0 696.7,147.5 700.8,148.3 705.8,144.2 714.7,123.7 720.0,122.2 725.8,123.3 730.0,117.5 734.2,116.3 748.3,120.8 753.1,123.8 762.3,120.0 768.5,126.2 775.4,126.5 784.6,134.6 793.1,138.2 806.9,140.3 811.5,141.5 816.5,140.8 818.5,120.0 821.5,80.0 825.4,70.0 828.5,66.5 837.7,66.9 856.2,72.6 857.7,72.0 863.8,76.9 868.8,78.8" fill="none" stroke="#F5821F" stroke-width="1.8" stroke-linejoin="round" stroke-linecap="round"/>
<line x1="638.5" y1="35.1" x2="638.5" y2="180.95000000000002" stroke="#000" stroke-width="1.3" stroke-linecap="butt"/>
<line x1="637.85" y1="180.3" x2="872.35" y2="180.3" stroke="#000" stroke-width="1.3" stroke-linecap="butt"/>
<line x1="634" y1="180.3" x2="638.5" y2="180.3" stroke="#000" stroke-width="1.3" stroke-linecap="butt"/>
<text x="631.9" y="183.70000000000002" font-family="'Liberation Sans', sans-serif" font-size="9" font-weight="bold" text-anchor="end" fill="#000" transform="translate(631.9 183.70000000000002) scale(1 1.1) translate(-631.9 -183.70000000000002)">0.8</text>
<line x1="634" y1="144.00000000000003" x2="638.5" y2="144.00000000000003" stroke="#000" stroke-width="1.3" stroke-linecap="butt"/>
<text x="631.9" y="147.40000000000003" font-family="'Liberation Sans', sans-serif" font-size="9" font-weight="bold" text-anchor="end" fill="#000" transform="translate(631.9 147.40000000000003) scale(1 1.1) translate(-631.9 -147.40000000000003)">1.0</text>
<line x1="634" y1="107.70000000000003" x2="638.5" y2="107.70000000000003" stroke="#000" stroke-width="1.3" stroke-linecap="butt"/>
<text x="631.9" y="111.10000000000004" font-family="'Liberation Sans', sans-serif" font-size="9" font-weight="bold" text-anchor="end" fill="#000" transform="translate(631.9 111.10000000000004) scale(1 1.1) translate(-631.9 -111.10000000000004)">1.2</text>
<line x1="634" y1="71.40000000000005" x2="638.5" y2="71.40000000000005" stroke="#000" stroke-width="1.3" stroke-linecap="butt"/>
<text x="631.9" y="74.80000000000005" font-family="'Liberation Sans', sans-serif" font-size="9" font-weight="bold" text-anchor="end" fill="#000" transform="translate(631.9 74.80000000000005) scale(1 1.1) translate(-631.9 -74.80000000000005)">1.4</text>
<line x1="634" y1="35.10000000000002" x2="638.5" y2="35.10000000000002" stroke="#000" stroke-width="1.3" stroke-linecap="butt"/>
<text x="631.9" y="38.50000000000002" font-family="'Liberation Sans', sans-serif" font-size="9" font-weight="bold" text-anchor="end" fill="#000" transform="translate(631.9 38.50000000000002) scale(1 1.1) translate(-631.9 -38.50000000000002)">1.6</text>
<line x1="638.5" y1="180.3" x2="638.5" y2="184.8" stroke="#000" stroke-width="1.3" stroke-linecap="butt"/>
<text x="638.5" y="194.7" font-family="'Liberation Sans', sans-serif" font-size="9" font-weight="bold" text-anchor="middle" fill="#000" transform="translate(638.5 194.7) scale(1 1.1) translate(-638.5 -194.7)">0</text>
<line x1="667.65" y1="180.3" x2="667.65" y2="184.8" stroke="#000" stroke-width="1.3" stroke-linecap="butt"/>
<text x="667.65" y="194.7" font-family="'Liberation Sans', sans-serif" font-size="9" font-weight="bold" text-anchor="middle" fill="#000" transform="translate(667.65 194.7) scale(1 1.1) translate(-667.65 -194.7)">10</text>
<line x1="696.8" y1="180.3" x2="696.8" y2="184.8" stroke="#000" stroke-width="1.3" stroke-linecap="butt"/>
<text x="696.8" y="194.7" font-family="'Liberation Sans', sans-serif" font-size="9" font-weight="bold" text-anchor="middle" fill="#000" transform="translate(696.8 194.7) scale(1 1.1) translate(-696.8 -194.7)">20</text>
<line x1="725.95" y1="180.3" x2="725.95" y2="184.8" stroke="#000" stroke-width="1.3" stroke-linecap="butt"/>
<text x="725.95" y="194.7" font-family="'Liberation Sans', sans-serif" font-size="9" font-weight="bold" text-anchor="middle" fill="#000" transform="translate(725.95 194.7) scale(1 1.1) translate(-725.95 -194.7)">30</text>
<line x1="755.1" y1="180.3" x2="755.1" y2="184.8" stroke="#000" stroke-width="1.3" stroke-linecap="butt"/>
<text x="755.1" y="194.7" font-family="'Liberation Sans', sans-serif" font-size="9" font-weight="bold" text-anchor="middle" fill="#000" transform="translate(755.1 194.7) scale(1 1.1) translate(-755.1 -194.7)">40</text>
<line x1="784.25" y1="180.3" x2="784.25" y2="184.8" stroke="#000" stroke-width="1.3" stroke-linecap="butt"/>
<text x="784.25" y="194.7" font-family="'Liberation Sans', sans-serif" font-size="9" font-weight="bold" text-anchor="middle" fill="#000" transform="translate(784.25 194.7) scale(1 1.1) translate(-784.25 -194.7)">50</text>
<line x1="813.4" y1="180.3" x2="813.4" y2="184.8" stroke="#000" stroke-width="1.3" stroke-linecap="butt"/>
<text x="813.4" y="194.7" font-family="'Liberation Sans', sans-serif" font-size="9" font-weight="bold" text-anchor="middle" fill="#000" transform="translate(813.4 194.7) scale(1 1.1) translate(-813.4 -194.7)">60</text>
<line x1="842.55" y1="180.3" x2="842.55" y2="184.8" stroke="#000" stroke-width="1.3" stroke-linecap="butt"/>
<text x="842.55" y="194.7" font-family="'Liberation Sans', sans-serif" font-size="9" font-weight="bold" text-anchor="middle" fill="#000" transform="translate(842.55 194.7) scale(1 1.1) translate(-842.55 -194.7)">70</text>
<line x1="871.7" y1="180.3" x2="871.7" y2="184.8" stroke="#000" stroke-width="1.3" stroke-linecap="butt"/>
<text x="871.7" y="194.7" font-family="'Liberation Sans', sans-serif" font-size="9" font-weight="bold" text-anchor="middle" fill="#000" transform="translate(871.7 194.7) scale(1 1.1) translate(-871.7 -194.7)">80</text>
<text x="0" y="0" font-family="'Liberation Sans', sans-serif" font-size="9.315" font-weight="bold" fill="#000" transform="translate(738.10 211.80) scale(1.0674 1)">Time(s)</text>
<text x="0" y="0" font-family="'Liberation Sans', sans-serif" font-size="10.411" font-weight="bold" fill="#000" transform="translate(614.70 156.20) rotate(-90) translate(-0.65 0) scale(0.8974 1)">Normalized ΔF340/380</text>
<text x="0" y="0" font-family="'Liberation Serif', serif" font-size="11.970" font-weight="bold" fill="#000" transform="translate(688.27 32.70) scale(1.0726 1)">100 µM DMI</text>
<line x1="704.5" y1="39.8" x2="744.2" y2="39.8" stroke="#000" stroke-width="2.3" stroke-linecap="butt"/>
<text x="0" y="0" font-family="'Liberation Serif', serif" font-size="11.449" font-weight="bold" fill="#000" transform="translate(819.64 32.70) scale(1.1194 1)">KCl</text>
<line x1="815.2" y1="39.8" x2="850.4" y2="39.8" stroke="#000" stroke-width="2.3" stroke-linecap="butt"/>
<text x="0" y="0" font-family="'Liberation Serif', serif" font-size="33.333" font-weight="bold" fill="#000" transform="translate(873.67 22.67) scale(0.9750 1)">C</text>
<line x1="932.2" y1="12.7" x2="932.2" y2="182.25" stroke="#000" stroke-width="1.3" stroke-linecap="butt"/>
<line x1="931.5500000000001" y1="181.6" x2="1062.6" y2="181.6" stroke="#000" stroke-width="1.3" stroke-linecap="butt"/>
<line x1="928" y1="181.6" x2="932.2" y2="181.6" stroke="#000" stroke-width="1.3" stroke-linecap="butt"/>
<text x="926.2" y="185.0" font-family="'Liberation Sans', sans-serif" font-size="9" font-weight="bold" text-anchor="end" fill="#000" transform="translate(926.2 185.0) scale(1 1.1) translate(-926.2 -185.0)">0</text>
<line x1="928" y1="139.375" x2="932.2" y2="139.375" stroke="#000" stroke-width="1.3" stroke-linecap="butt"/>
<text x="926.2" y="142.775" font-family="'Liberation Sans', sans-serif" font-size="9" font-weight="bold" text-anchor="end" fill="#000" transform="translate(926.2 142.775) scale(1 1.1) translate(-926.2 -142.775)">20</text>
<line x1="928" y1="97.14999999999999" x2="932.2" y2="97.14999999999999" stroke="#000" stroke-width="1.3" stroke-linecap="butt"/>
<text x="926.2" y="100.55" font-family="'Liberation Sans', sans-serif" font-size="9" font-weight="bold" text-anchor="end" fill="#000" transform="translate(926.2 100.55) scale(1 1.1) translate(-926.2 -100.55)">40</text>
<line x1="928" y1="54.92499999999998" x2="932.2" y2="54.92499999999998" stroke="#000" stroke-width="1.3" stroke-linecap="butt"/>
<text x="926.2" y="58.32499999999998" font-family="'Liberation Sans', sans-serif" font-size="9" font-weight="bold" text-anchor="end" fill="#000" transform="translate(926.2 58.32499999999998) scale(1 1.1) translate(-926.2 -58.32499999999998)">60</text>
<line x1="928" y1="12.699999999999989" x2="932.2" y2="12.699999999999989" stroke="#000" stroke-width="1.3" stroke-linecap="butt"/>
<text x="926.2" y="16.099999999999987" font-family="'Liberation Sans', sans-serif" font-size="9" font-weight="bold" text-anchor="end" fill="#000" transform="translate(926.2 16.099999999999987) scale(1 1.1) translate(-926.2 -16.099999999999987)">80</text>
<line x1="970.5" y1="181.6" x2="970.5" y2="186" stroke="#000" stroke-width="1.3" stroke-linecap="butt"/>
<line x1="1025.7" y1="181.6" x2="1025.7" y2="186" stroke="#000" stroke-width="1.3" stroke-linecap="butt"/>
<text x="970.5" y="197.5" font-family="'Liberation Sans', sans-serif" font-size="9" font-weight="bold" text-anchor="middle" fill="#000" transform="translate(970.5 197.5) scale(1 1.1) translate(-970.5 -197.5)">BL</text>
<text x="1025.7" y="197.5" font-family="'Liberation Sans', sans-serif" font-size="9" font-weight="bold" text-anchor="middle" fill="#000" transform="translate(1025.7 197.5) scale(1 1.1) translate(-1025.7 -197.5)">DMI</text>
<text x="0" y="0" font-family="'Liberation Sans', sans-serif" font-size="10.822" font-weight="bold" fill="#000" transform="translate(908.50 191.25) rotate(-90) translate(-0.75 0) scale(0.9955 1)">Normalized % of response amplitude</text>
<path d="M1009.20,181.6 L1009.20,90.13 L1042.70,90.13 L1042.70,181.6" fill="none" stroke="#F00" stroke-width="2"/>
<line x1="931.5500000000001" y1="181.6" x2="1062.6" y2="181.6" stroke="#000" stroke-width="1.3" stroke-linecap="butt"/>
<line x1="1025.7" y1="71.4" x2="1025.7" y2="106.4" stroke="#F00" stroke-width="1.3" stroke-linecap="butt"/>
<line x1="1017" y1="71.4" x2="1035" y2="71.4" stroke="#F00" stroke-width="1.3" stroke-linecap="butt"/>
<line x1="1017" y1="106.4" x2="1035" y2="106.4" stroke="#F00" stroke-width="1.3" stroke-linecap="butt"/>
<circle cx="1025.7" cy="50.6" r="2.6" fill="none" stroke="#F00" stroke-width="1.3"/>
<circle cx="1025.7" cy="74" r="2.6" fill="none" stroke="#F00" stroke-width="1.3"/>
<circle cx="1025.7" cy="97" r="2.6" fill="none" stroke="#F00" stroke-width="1.3"/>
<circle cx="1025.7" cy="133" r="2.6" fill="none" stroke="#F00" stroke-width="1.3"/>
<circle cx="953.7" cy="181.6" r="2.6" fill="none" stroke="#00F" stroke-width="1.3"/>
<circle cx="964.5" cy="181.6" r="2.6" fill="none" stroke="#00F" stroke-width="1.3"/>
<circle cx="975.3" cy="181.6" r="2.6" fill="none" stroke="#00F" stroke-width="1.3"/>
<circle cx="985.5" cy="181.6" r="2.6" fill="none" stroke="#00F" stroke-width="1.3"/>
<line x1="953.7" y1="181.6" x2="985.5" y2="181.6" stroke="#00F" stroke-width="1.3" stroke-linecap="butt"/>
<polygon points="1023.30,35.80 1023.89,37.19 1025.39,37.32 1024.25,38.31 1024.59,39.78 1023.30,39.00 1022.01,39.78 1022.35,38.31 1021.21,37.32 1022.71,37.19" fill="#000"/>
<polygon points="1027.50,35.80 1028.09,37.19 1029.59,37.32 1028.45,38.31 1028.79,39.78 1027.50,39.00 1026.21,39.78 1026.55,38.31 1025.41,37.32 1026.91,37.19" fill="#000"/>
<text x="0" y="0" font-family="'Liberation Serif', serif" font-size="31.692" font-weight="bold" fill="#000" transform="translate(1.08 228.80) scale(0.9757 1)">D</text>
<text x="0" y="0" font-family="'Liberation Serif', serif" font-size="20.870" font-weight="bold" fill="#000" transform="translate(115.57 236.40) scale(1.0239 1)">Baseline</text>
<clipPath id="c4"><rect x="60.75" y="243.8" width="178.45" height="118.89999999999998"/></clipPath>
<rect x="60.75" y="243.8" width="178.45" height="118.89999999999998" fill="#020304"/>
<g clip-path="url(#c4)"><g filter="url(#blH)" transform="translate(60.75 243.8)">
<circle cx="90" cy="60" r="30" fill="#060a18"/>
<circle cx="140" cy="90" r="28" fill="#060a18"/>
<circle cx="150" cy="30" r="25" fill="#050814"/>
</g>
<g filter="url(#bl)" transform="translate(60.75 243.8)">
<circle cx="65.6" cy="9.5" r="17.6" fill="url(#g3a0a0a)"/>
<circle cx="160.1" cy="18" r="16.0" fill="url(#g4a1010)"/>
<circle cx="137.8" cy="79.9" r="16.0" fill="url(#g4a1010)"/>
<circle cx="37.3" cy="92.8" r="6.4" fill="url(#g3a0a0a)"/>
<circle cx="55.3" cy="102.2" r="8.0" fill="url(#g2a0808)"/>
<circle cx="65.6" cy="81.6" r="9.6" fill="url(#g1a1040)"/>
<circle cx="110.3" cy="24.9" r="11.2" fill="url(#g1a4050)"/>
<circle cx="101.7" cy="40.4" r="9.0" fill="url(#g1f6073)"/>
<circle cx="167" cy="52.4" r="12.8" fill="url(#g1a3a60)"/>
<circle cx="100" cy="69.6" r="8.0" fill="url(#g102040)"/>
<circle cx="10.3" cy="57.6" r="11.5" fill="url(#g60e6f0)"/>
<circle cx="10.3" cy="56" r="5.1" fill="url(#g2d67f1)"/>
<circle cx="39.9" cy="59.3" r="11.0" fill="url(#g45b6a3)"/>
<circle cx="43.3" cy="62.7" r="5.8" fill="url(#g2245e0)"/>
<circle cx="21.8" cy="12" r="3.2" fill="url(#g4ce64c)"/>
<circle cx="81.1" cy="13.7" r="7.0" fill="url(#g3986ff)"/>
<circle cx="94.8" cy="13.7" r="6.7" fill="url(#g4cc0f9)"/>
<circle cx="89.7" cy="4.3" r="4.5" fill="url(#g2d678a)"/>
<circle cx="112" cy="7.7" r="7.7" fill="url(#g2d678a)"/>
<circle cx="111" cy="7" r="3.8" fill="url(#g2245cf)"/>
<circle cx="78.5" cy="40.4" r="9.0" fill="url(#g2256e0)"/>
<circle cx="81.1" cy="58.4" r="8.3" fill="url(#g3367e0)"/>
<circle cx="136.9" cy="32.6" r="8.3" fill="url(#g4cc0f9)"/>
<circle cx="135.5" cy="31.5" r="4.5" fill="url(#g2256f1)"/>
<circle cx="167" cy="33.5" r="9.0" fill="url(#g4cc0f9)"/>
<circle cx="121.5" cy="47.3" r="6.4" fill="url(#g2256cf)"/>
<circle cx="143" cy="50.7" r="7.7" fill="url(#g4cd3c0)"/>
<circle cx="149" cy="67.9" r="9.2" fill="url(#g60f9e6)"/>
<circle cx="148" cy="65.5" r="5.1" fill="url(#g2245f1)"/>
<circle cx="149" cy="97.9" r="6.4" fill="url(#gff4c26)"/>
<circle cx="148.1" cy="103.1" r="4.5" fill="url(#g4ce64c)"/>
<circle cx="149" cy="108.2" r="6.4" fill="url(#g2245f1)"/>
<circle cx="12.4" cy="81.6" r="6.4" fill="url(#g22458a)"/>
<circle cx="45" cy="83.3" r="6.4" fill="url(#g2245ac)"/>
<circle cx="111.2" cy="79.9" r="7.0" fill="url(#g2256cf)"/>
<circle cx="120.6" cy="91.1" r="6.1" fill="url(#g266060)"/>
<circle cx="89.7" cy="103.1" r="6.1" fill="url(#g3999c0)"/>
<circle cx="103.4" cy="99.7" r="3.2" fill="url(#g73e6ff)"/>
<circle cx="126.6" cy="109.1" r="5.5" fill="url(#g2245f1)"/>
<circle cx="104.3" cy="117.7" r="3.8" fill="url(#g6722cf)"/>
</g></g>
<text x="0" y="0" font-family="'Liberation Serif', serif" font-size="22.727" font-weight="bold" fill="#000" transform="translate(289.47 238.50) scale(0.9541 1)">100 µM DMI</text>
<clipPath id="c5"><rect x="258.8" y="243.8" width="178.8" height="119.09999999999997"/></clipPath>
<rect x="258.8" y="243.8" width="178.8" height="119.09999999999997" fill="#020304"/>
<g clip-path="url(#c5)"><g filter="url(#blH)" transform="translate(258.8 243.8)">
<circle cx="90" cy="60" r="30" fill="#060a18"/>
<circle cx="140" cy="90" r="28" fill="#060a18"/>
<circle cx="150" cy="30" r="25" fill="#050814"/>
</g>
<g filter="url(#bl)" transform="translate(258.8 243.8)">
<circle cx="65.6" cy="9.5" r="17.6" fill="url(#g3a0a0a)"/>
<circle cx="160.1" cy="18" r="16.0" fill="url(#g4a1010)"/>
<circle cx="137.8" cy="79.9" r="16.0" fill="url(#g4a1010)"/>
<circle cx="37.3" cy="92.8" r="6.4" fill="url(#g3a0a0a)"/>
<circle cx="55.3" cy="102.2" r="8.0" fill="url(#g2a0808)"/>
<circle cx="65.6" cy="81.6" r="9.6" fill="url(#g1a1040)"/>
<circle cx="110.3" cy="24.9" r="11.2" fill="url(#g1a4050)"/>
<circle cx="101.7" cy="40.4" r="9.0" fill="url(#g1f6073)"/>
<circle cx="167" cy="52.4" r="12.8" fill="url(#g1a3a60)"/>
<circle cx="100" cy="69.6" r="8.0" fill="url(#g102040)"/>
<circle cx="10.3" cy="57.6" r="11.5" fill="url(#g60e6f0)"/>
<circle cx="10.3" cy="56" r="5.1" fill="url(#g2d67f1)"/>
<circle cx="39.9" cy="59.3" r="11.0" fill="url(#g45b6a3)"/>
<circle cx="43.3" cy="62.7" r="5.8" fill="url(#g2245e0)"/>
<circle cx="21.8" cy="12" r="3.2" fill="url(#g4ce64c)"/>
<circle cx="81.1" cy="13.7" r="7.0" fill="url(#g3986ff)"/>
<circle cx="94.8" cy="13.7" r="6.7" fill="url(#g4cc0f9)"/>
<circle cx="89.7" cy="4.3" r="4.5" fill="url(#g2d678a)"/>
<circle cx="112" cy="7.7" r="7.7" fill="url(#g2d678a)"/>
<circle cx="111" cy="7" r="3.8" fill="url(#g2245cf)"/>
<circle cx="78.5" cy="40.4" r="9.0" fill="url(#g2256e0)"/>
<circle cx="81.1" cy="58.4" r="8.3" fill="url(#g3367e0)"/>
<circle cx="136.9" cy="32.6" r="8.3" fill="url(#g4cc0f9)"/>
<circle cx="135.5" cy="31.5" r="4.5" fill="url(#g2256f1)"/>
<circle cx="167" cy="33.5" r="9.0" fill="url(#g4cc0f9)"/>
<circle cx="121.5" cy="47.3" r="6.4" fill="url(#g2256cf)"/>
<circle cx="143" cy="50.7" r="7.7" fill="url(#g4cd3c0)"/>
<circle cx="149" cy="67.9" r="9.2" fill="url(#g60f9e6)"/>
<circle cx="148" cy="65.5" r="5.1" fill="url(#g2245f1)"/>
<circle cx="149" cy="97.9" r="6.4" fill="url(#gff4c26)"/>
<circle cx="148.1" cy="103.1" r="4.5" fill="url(#g4ce64c)"/>
<circle cx="149" cy="108.2" r="6.4" fill="url(#g2245f1)"/>
<circle cx="12.4" cy="81.6" r="6.4" fill="url(#g22458a)"/>
<circle cx="45" cy="83.3" r="6.4" fill="url(#g2245ac)"/>
<circle cx="111.2" cy="79.9" r="7.0" fill="url(#g2256cf)"/>
<circle cx="120.6" cy="91.1" r="6.1" fill="url(#g266060)"/>
<circle cx="89.7" cy="103.1" r="6.1" fill="url(#g3999c0)"/>
<circle cx="103.4" cy="99.7" r="3.2" fill="url(#g73e6ff)"/>
<circle cx="126.6" cy="109.1" r="5.5" fill="url(#g2245f1)"/>
<circle cx="104.3" cy="117.7" r="3.8" fill="url(#g6722cf)"/>
</g></g>
<text x="0" y="0" font-family="'Liberation Serif', serif" font-size="21.818" font-weight="bold" fill="#000" transform="translate(482.05 237.20) scale(1.0050 1)">100 µM AITC</text>
<clipPath id="c6"><rect x="457.1" y="243.8" width="179.89999999999998" height="119.19999999999999"/></clipPath>
<rect x="457.1" y="243.8" width="179.89999999999998" height="119.19999999999999" fill="#020304"/>
<g clip-path="url(#c6)"><g filter="url(#blH)" transform="translate(457.1 243.8)">
<circle cx="90" cy="60" r="30" fill="#060a18"/>
<circle cx="140" cy="90" r="28" fill="#060a18"/>
<circle cx="150" cy="30" r="25" fill="#050814"/>
</g>
<g filter="url(#bl)" transform="translate(457.1 243.8)">
<circle cx="65.6" cy="9.5" r="17.6" fill="url(#g3a0a0a)"/>
<circle cx="160.1" cy="18" r="16.0" fill="url(#g4a1010)"/>
<circle cx="137.8" cy="79.9" r="16.0" fill="url(#g4a1010)"/>
<circle cx="37.3" cy="92.8" r="6.4" fill="url(#g3a0a0a)"/>
<circle cx="55.3" cy="102.2" r="8.0" fill="url(#g2a0808)"/>
<circle cx="65.6" cy="81.6" r="9.6" fill="url(#g1a1040)"/>
<circle cx="110.3" cy="24.9" r="11.2" fill="url(#g1a4050)"/>
<circle cx="101.7" cy="40.4" r="9.0" fill="url(#g1f6073)"/>
<circle cx="167" cy="52.4" r="12.8" fill="url(#g1a3a60)"/>
<circle cx="100" cy="69.6" r="8.0" fill="url(#g102040)"/>
<circle cx="10.3" cy="57.6" r="11.5" fill="url(#g60e6f0)"/>
<circle cx="10.3" cy="56" r="5.1" fill="url(#g2d67f1)"/>
<circle cx="39.9" cy="59.3" r="11.0" fill="url(#g45b6a3)"/>
<circle cx="43.3" cy="62.7" r="5.8" fill="url(#g2245e0)"/>
<circle cx="21.8" cy="12" r="3.2" fill="url(#g4ce64c)"/>
<circle cx="81.1" cy="13.7" r="7.0" fill="url(#g3986ff)"/>
<circle cx="94.8" cy="13.7" r="6.7" fill="url(#g4cc0f9)"/>
<circle cx="89.7" cy="4.3" r="4.5" fill="url(#g2d678a)"/>
<circle cx="112" cy="7.7" r="7.7" fill="url(#g2d678a)"/>
<circle cx="111" cy="7" r="3.8" fill="url(#g2245cf)"/>
<circle cx="78.5" cy="40.4" r="9.0" fill="url(#g2256e0)"/>
<circle cx="81.1" cy="58.4" r="8.3" fill="url(#g3367e0)"/>
<circle cx="136.9" cy="32.6" r="8.3" fill="url(#g4cc0f9)"/>
<circle cx="135.5" cy="31.5" r="4.5" fill="url(#g2256f1)"/>
<circle cx="167" cy="33.5" r="9.0" fill="url(#g4cc0f9)"/>
<circle cx="121.5" cy="47.3" r="6.4" fill="url(#g2256cf)"/>
<circle cx="143" cy="50.7" r="7.7" fill="url(#g4cd3c0)"/>
<circle cx="149" cy="67.9" r="9.2" fill="url(#g60f9e6)"/>
<circle cx="148" cy="65.5" r="5.1" fill="url(#g2245f1)"/>
<circle cx="149" cy="97.9" r="6.4" fill="url(#gff4c26)"/>
<circle cx="148.1" cy="103.1" r="4.5" fill="url(#g4ce64c)"/>
<circle cx="149" cy="108.2" r="6.4" fill="url(#g2245f1)"/>
<circle cx="12.4" cy="81.6" r="6.4" fill="url(#g22458a)"/>
<circle cx="45" cy="83.3" r="6.4" fill="url(#g2245ac)"/>
<circle cx="111.2" cy="79.9" r="7.0" fill="url(#g2256cf)"/>
<circle cx="120.6" cy="91.1" r="6.1" fill="url(#g266060)"/>
<circle cx="89.7" cy="103.1" r="6.1" fill="url(#g3999c0)"/>
<circle cx="103.4" cy="99.7" r="3.2" fill="url(#g73e6ff)"/>
<circle cx="126.6" cy="109.1" r="5.5" fill="url(#g2245f1)"/>
<circle cx="104.3" cy="117.7" r="3.8" fill="url(#g6722cf)"/>
</g></g>
<text x="0" y="0" font-family="'Liberation Serif', serif" font-size="19.130" font-weight="bold" fill="#000" transform="translate(669.29 235.30) scale(1.1178 1)">10 µM Capsaicin</text>
<clipPath id="c7"><rect x="656.7" y="244.3" width="177.89999999999998" height="118.39999999999998"/></clipPath>
<rect x="656.7" y="244.3" width="177.89999999999998" height="118.39999999999998" fill="#020304"/>
<g clip-path="url(#c7)"><g filter="url(#blH)" transform="translate(656.7 244.3)">
<circle cx="90" cy="60" r="30" fill="#060a18"/>
<circle cx="140" cy="90" r="28" fill="#060a18"/>
<circle cx="150" cy="30" r="25" fill="#050814"/>
</g>
<g filter="url(#bl)" transform="translate(656.7 244.3)">
<circle cx="65.6" cy="11" r="17.6" fill="url(#g3a0a0a)"/>
<circle cx="160.1" cy="20" r="16.0" fill="url(#g4a1010)"/>
<circle cx="137.8" cy="82" r="16.0" fill="url(#g4a1010)"/>
<circle cx="37.3" cy="95" r="6.4" fill="url(#g3a0a0a)"/>
<circle cx="55.3" cy="104" r="8.0" fill="url(#g2a0808)"/>
<circle cx="65.6" cy="84" r="9.6" fill="url(#g1a1040)"/>
<circle cx="110.3" cy="27" r="11.2" fill="url(#g1a4050)"/>
<circle cx="101.7" cy="42.5" r="9.0" fill="url(#g1f6073)"/>
<circle cx="167" cy="54.5" r="12.8" fill="url(#g1a3a60)"/>
<circle cx="100" cy="72" r="8.0" fill="url(#g102040)"/>
<circle cx="9.8" cy="60.5" r="11.5" fill="url(#g60e6f0)"/>
<circle cx="9.8" cy="59" r="5.1" fill="url(#g2d67f1)"/>
<circle cx="39" cy="62.2" r="11.0" fill="url(#g45b6a3)"/>
<circle cx="41.6" cy="65.6" r="5.8" fill="url(#g2245e0)"/>
<circle cx="21" cy="15" r="3.2" fill="url(#g4ce64c)"/>
<circle cx="87.1" cy="7.2" r="5.1" fill="url(#ge67326)"/>
<circle cx="80.2" cy="16.7" r="7.0" fill="url(#g4cf94c)"/>
<circle cx="93.1" cy="17.5" r="7.0" fill="url(#ge67326)"/>
<circle cx="93.1" cy="18" r="5.4" fill="url(#g60e64c)"/>
<circle cx="111.2" cy="10.6" r="7.7" fill="url(#g2d678a)"/>
<circle cx="110" cy="10" r="3.8" fill="url(#g2245cf)"/>
<circle cx="77.7" cy="43.3" r="9.0" fill="url(#g2256e0)"/>
<circle cx="79.4" cy="62.2" r="8.3" fill="url(#g3367e0)"/>
<circle cx="134.4" cy="35.6" r="8.3" fill="url(#g4cc0f9)"/>
<circle cx="133" cy="34.5" r="4.5" fill="url(#g2256f1)"/>
<circle cx="164.4" cy="37.3" r="8.7" fill="url(#gf94c26)"/>
<circle cx="164.4" cy="37.8" r="6.7" fill="url(#gacf039)"/>
<circle cx="120.6" cy="50.2" r="6.4" fill="url(#g2256cf)"/>
<circle cx="142.1" cy="54.5" r="7.7" fill="url(#g60f94c)"/>
<circle cx="147.3" cy="72.5" r="9.6" fill="url(#g60f9e6)"/>
<circle cx="146.5" cy="70" r="5.1" fill="url(#g2245f1)"/>
<circle cx="11.5" cy="84.5" r="5.8" fill="url(#g996026)"/>
<circle cx="44.2" cy="86.3" r="5.8" fill="url(#g996026)"/>
<circle cx="109.5" cy="82.8" r="6.4" fill="url(#gc04c26)"/>
<circle cx="111" cy="81" r="3.2" fill="url(#g73c039)"/>
<circle cx="146.4" cy="100" r="6.4" fill="url(#gff4c26)"/>
<circle cx="146.4" cy="106" r="4.5" fill="url(#g4ce64c)"/>
<circle cx="147.3" cy="110.3" r="6.4" fill="url(#g2245f1)"/>
<circle cx="118.9" cy="94" r="6.4" fill="url(#g2245cf)"/>
<circle cx="101.7" cy="101.7" r="3.2" fill="url(#g73e6ff)"/>
<circle cx="88" cy="106" r="6.1" fill="url(#g3986d3)"/>
<circle cx="124.9" cy="111.2" r="5.5" fill="url(#g2245f1)"/>
</g></g>
<text x="0" y="0" font-family="'Liberation Serif', serif" font-size="21.449" font-weight="bold" fill="#000" transform="translate(893.83 235.00) scale(1.0089 1)">56 mM KCl</text>
<clipPath id="c8"><rect x="855.1" y="244.2" width="177.60000000000002" height="118.0"/></clipPath>
<rect x="855.1" y="244.2" width="177.60000000000002" height="118.0" fill="#020304"/>
<g clip-path="url(#c8)"><g filter="url(#blH)" transform="translate(855.1 244.2)">
<circle cx="90" cy="60" r="30" fill="#180808"/>
<circle cx="140" cy="90" r="28" fill="#200a08"/>
<circle cx="150" cy="30" r="25" fill="#200a08"/>
<circle cx="60" cy="30" r="25" fill="#140606"/>
</g>
<g filter="url(#bl)" transform="translate(855.1 244.2)">
<circle cx="160.1" cy="21.5" r="16.0" fill="url(#g401010)"/>
<circle cx="167" cy="57.6" r="12.8" fill="url(#g302010)"/>
<circle cx="110.3" cy="28.4" r="11.2" fill="url(#g402010)"/>
<circle cx="100" cy="73" r="8.0" fill="url(#g503015)"/>
<circle cx="101.7" cy="45.5" r="11.2" fill="url(#g502015)"/>
<circle cx="113.7" cy="12" r="7.7" fill="url(#g733926)"/>
<circle cx="12" cy="61.9" r="11.0" fill="url(#gff6026)"/>
<circle cx="12" cy="62" r="5.8" fill="url(#gf0f94c)"/>
<circle cx="40.7" cy="62.7" r="10.2" fill="url(#gd33926)"/>
<circle cx="23.5" cy="15.5" r="3.8" fill="url(#g4ce64c)"/>
<circle cx="89.7" cy="8.1" r="5.1" fill="url(#ge67326)"/>
<circle cx="82.8" cy="16.7" r="7.0" fill="url(#g60f94c)"/>
<circle cx="94.8" cy="18.4" r="6.7" fill="url(#gf94c26)"/>
<circle cx="94.8" cy="18.8" r="5.1" fill="url(#g73e64c)"/>
<circle cx="80.2" cy="44.7" r="9.0" fill="url(#ge64c26)"/>
<circle cx="80.2" cy="44.7" r="4.5" fill="url(#gf98639)"/>
<circle cx="82" cy="62.7" r="7.7" fill="url(#gc09926)"/>
<circle cx="82" cy="62.7" r="3.8" fill="url(#g99d339)"/>
<circle cx="137" cy="36.1" r="8.3" fill="url(#gf93926)"/>
<circle cx="167.9" cy="37.8" r="8.3" fill="url(#gf94c26)"/>
<circle cx="167.9" cy="37.8" r="6.7" fill="url(#g73f939)"/>
<circle cx="122.3" cy="51.5" r="6.4" fill="url(#g99c039)"/>
<circle cx="144.7" cy="55.8" r="7.7" fill="url(#g73f94c)"/>
<circle cx="150.7" cy="73" r="9.6" fill="url(#gff4c26)"/>
<circle cx="150.7" cy="73" r="4.5" fill="url(#gffc039)"/>
<circle cx="111.2" cy="82.5" r="6.4" fill="url(#gc04c26)"/>
<circle cx="13.2" cy="85" r="6.1" fill="url(#g993926)"/>
<circle cx="46.7" cy="87.6" r="6.1" fill="url(#g867326)"/>
<circle cx="121.5" cy="95.4" r="5.5" fill="url(#g863926)"/>
<circle cx="103.4" cy="102.6" r="3.2" fill="url(#g2256ff)"/>
<circle cx="89.7" cy="107.4" r="5.5" fill="url(#g738626)"/>
<circle cx="127.5" cy="110.8" r="5.5" fill="url(#gc09926)"/>
<circle cx="149" cy="98.8" r="4.5" fill="url(#gff2626)"/>
<circle cx="149" cy="109.1" r="4.5" fill="url(#g73d339)"/>
</g></g>
<text x="0" y="0" font-family="'Liberation Serif', serif" font-size="13.538" font-weight="bold" stroke="#fff" stroke-width="0.35" fill="#fff" transform="translate(990.29 340.80) scale(0.9489 1)">25 µm</text>
<rect x="993.3" y="345.2" width="30.600000000000023" height="5.199999999999989" fill="#fff" stroke="none" stroke-width="1"/>
<text x="0" y="0" font-family="'Liberation Serif', serif" font-size="21.364" font-weight="bold" font-style="italic" fill="#000" transform="translate(42.70 344.70) rotate(-90) translate(-1.49 0) scale(0.9954 1)">Trpa1</text>
<line x1="28.6" y1="293.5" x2="28.6" y2="284.5" stroke="#000" stroke-width="1.4" stroke-linecap="butt"/>
<line x1="35.6" y1="281.9" x2="20.9" y2="272.3" stroke="#000" stroke-width="1.6" stroke-linecap="butt"/>
<line x1="28.6" y1="271.7" x2="28.6" y2="262.7" stroke="#000" stroke-width="1.4" stroke-linecap="butt"/>
<text x="0" y="0" font-family="'Liberation Serif', serif" font-size="20.870" font-weight="bold" fill="#000" transform="translate(119.07 396.40) scale(1.0266 1)">Baseline</text>
<clipPath id="c9"><rect x="60.5" y="410" width="178.5" height="118.39999999999998"/></clipPath>
<rect x="60.5" y="410" width="178.5" height="118.39999999999998" fill="#020305"/>
<g clip-path="url(#c9)"><g filter="url(#blH)" transform="translate(60.5 410)">
<circle cx="35" cy="15" r="30" fill="#2c5c40"/>
<circle cx="65" cy="35" r="20" fill="#3a3a30"/>
<circle cx="15" cy="50" r="22" fill="#183448"/>
<circle cx="20" cy="95" r="20" fill="#0c1c34"/>
<circle cx="75" cy="45" r="14" fill="#401810"/>
</g>
<g filter="url(#bl)" transform="translate(60.5 410)">
<circle cx="39.9" cy="8.6" r="14.1" fill="url(#g306e37)"/>
<circle cx="53.6" cy="21.5" r="12.8" fill="url(#g1a4060)"/>
<circle cx="55" cy="38" r="12.8" fill="url(#g15304a)"/>
<circle cx="64.8" cy="38.7" r="9.6" fill="url(#g3a1010)"/>
<circle cx="3.8" cy="5.2" r="5.8" fill="url(#g249393)"/>
<circle cx="27.8" cy="5.2" r="5.8" fill="url(#g3163c6)"/>
<circle cx="0.3" cy="16.3" r="5.1" fill="url(#g2152d7)"/>
<circle cx="15.8" cy="18" r="5.5" fill="url(#g49dc49)"/>
<circle cx="21.8" cy="25.8" r="7.7" fill="url(#g49b8ff)"/>
<circle cx="74.2" cy="11.2" r="9.6" fill="url(#g805c24)"/>
<circle cx="74.2" cy="11.2" r="5.1" fill="url(#g5cb837)"/>
<circle cx="100" cy="13.7" r="6.4" fill="url(#g2142c6)"/>
<circle cx="136.1" cy="10.3" r="7.7" fill="url(#gff5c24)"/>
<circle cx="136.1" cy="10.3" r="3.8" fill="url(#gffdc49)"/>
<circle cx="130.1" cy="18" r="6.7" fill="url(#g6effff)"/>
<circle cx="111.2" cy="28.4" r="6.1" fill="url(#g49ca5c)"/>
<circle cx="91.4" cy="35.2" r="6.4" fill="url(#g2152c6)"/>
<circle cx="76.8" cy="46.4" r="10.9" fill="url(#gdc3724)"/>
<circle cx="77.5" cy="45.5" r="5.1" fill="url(#gb8b837)"/>
<circle cx="51.9" cy="56.7" r="8.3" fill="url(#g3793ff)"/>
<circle cx="53.6" cy="22.3" r="3.2" fill="url(#g3793ef)"/>
<circle cx="8.1" cy="54.1" r="9.6" fill="url(#g2b6395)"/>
<circle cx="8.1" cy="54.1" r="4.5" fill="url(#g2152c6)"/>
<circle cx="9.8" cy="70.4" r="5.5" fill="url(#g49b8ef)"/>
<circle cx="60.5" cy="75.6" r="6.4" fill="url(#g1a3060)"/>
<polygon points="78.9,66.4 69.9,84.4 90.8,85.4" fill="#65caff" stroke="#65caff" stroke-width="1.5" stroke-linejoin="round" opacity="1" filter="url(#blT)"/>
<circle cx="80.5" cy="79" r="5.1" fill="url(#g2952f8)"/>
<circle cx="22.7" cy="87.6" r="5.8" fill="url(#g2142a5)"/>
<circle cx="4.6" cy="100.5" r="7.2" fill="url(#g2030a0)"/>
<circle cx="7" cy="80" r="8.0" fill="url(#g1a3a50)"/>
<circle cx="71.6" cy="109.1" r="6.7" fill="url(#g6eefff)"/>
<circle cx="149" cy="75.6" r="7.7" fill="url(#g5ccaff)"/>
<circle cx="163.6" cy="77.3" r="9.6" fill="url(#g5ccaff)"/>
<circle cx="163.6" cy="76" r="4.5" fill="url(#g3793ff)"/>
<circle cx="173.9" cy="38.7" r="4.5" fill="url(#g2163e7)"/>
<circle cx="108.6" cy="97.1" r="5.6" fill="url(#g203090)"/>
<circle cx="163.6" cy="112.5" r="6.1" fill="url(#g2142c6)"/>
<circle cx="155" cy="3.4" r="9.6" fill="url(#g1a2ac0)"/>
<circle cx="142.1" cy="85.9" r="3.8" fill="url(#g2142b6)"/>
<circle cx="176" cy="77" r="3.8" fill="url(#g49b8dc)"/>
</g></g>
<text x="0" y="0" font-family="'Liberation Serif', serif" font-size="20.455" font-weight="bold" fill="#000" transform="translate(287.58 400.00) scale(1.0494 1)">100 µM DMI</text>
<clipPath id="c10"><rect x="258.8" y="410" width="178.59999999999997" height="118.39999999999998"/></clipPath>
<rect x="258.8" y="410" width="178.59999999999997" height="118.39999999999998" fill="#020305"/>
<g clip-path="url(#c10)"><g filter="url(#blH)" transform="translate(258.8 410)">
<circle cx="35" cy="15" r="30" fill="#2c5c40"/>
<circle cx="65" cy="35" r="20" fill="#3a3a30"/>
<circle cx="15" cy="50" r="22" fill="#183448"/>
<circle cx="20" cy="95" r="20" fill="#0c1c34"/>
<circle cx="75" cy="45" r="14" fill="#401810"/>
</g>
<g filter="url(#bl)" transform="translate(258.8 410)">
<circle cx="39.9" cy="8.6" r="14.1" fill="url(#g306e37)"/>
<circle cx="53.6" cy="21.5" r="12.8" fill="url(#g1a4060)"/>
<circle cx="55" cy="38" r="12.8" fill="url(#g15304a)"/>
<circle cx="64.8" cy="38.7" r="9.6" fill="url(#g3a1010)"/>
<circle cx="3.8" cy="5.2" r="5.8" fill="url(#g249393)"/>
<circle cx="27.8" cy="5.2" r="5.8" fill="url(#g3793dc)"/>
<circle cx="0.3" cy="16.3" r="5.1" fill="url(#g2152d7)"/>
<circle cx="17" cy="16" r="5.5" fill="url(#g49dc49)"/>
<circle cx="23" cy="24" r="7.0" fill="url(#gffdc37)"/>
<circle cx="22" cy="26" r="3.8" fill="url(#gffff5c)"/>
<circle cx="74.2" cy="11.2" r="9.6" fill="url(#g935c24)"/>
<circle cx="74.2" cy="11.2" r="5.1" fill="url(#g5cb837)"/>
<circle cx="100" cy="13.7" r="6.4" fill="url(#g2142c6)"/>
<circle cx="136.1" cy="10.3" r="7.7" fill="url(#gff5c24)"/>
<circle cx="136.1" cy="10.3" r="3.8" fill="url(#gffdc49)"/>
<circle cx="132" cy="17" r="6.7" fill="url(#g6effff)"/>
<circle cx="113" cy="27.5" r="6.1" fill="url(#gdcb824)"/>
<circle cx="113" cy="27.5" r="3.8" fill="url(#g93dc37)"/>
<circle cx="93" cy="35.2" r="6.4" fill="url(#g2152c6)"/>
<circle cx="79" cy="46.4" r="10.9" fill="url(#gdc3724)"/>
<circle cx="79.5" cy="45.5" r="5.1" fill="url(#gdc9324)"/>
<circle cx="53" cy="56" r="8.3" fill="url(#gffff49)"/>
<circle cx="53.6" cy="22.3" r="3.2" fill="url(#g3793ef)"/>
<circle cx="8.1" cy="54.1" r="9.6" fill="url(#g2b6395)"/>
<circle cx="8.1" cy="54.1" r="4.5" fill="url(#g2152c6)"/>
<circle cx="10.5" cy="70.4" r="5.5" fill="url(#g6edc37)"/>
<circle cx="60.5" cy="75.6" r="6.4" fill="url(#g1a3060)"/>
<polygon points="80.5,66.4 71.5,84.4 92.4,85.4" fill="#65caff" stroke="#65caff" stroke-width="1.5" stroke-linejoin="round" opacity="1" filter="url(#blT)"/>
<circle cx="82" cy="79" r="5.1" fill="url(#g2952f8)"/>
<circle cx="24" cy="87.6" r="5.8" fill="url(#g2142a5)"/>
<circle cx="4.6" cy="100.5" r="7.2" fill="url(#g2030a0)"/>
<circle cx="7" cy="80" r="8.0" fill="url(#g1a3a50)"/>
<circle cx="73" cy="109.1" r="6.7" fill="url(#gdcff49)"/>
<circle cx="151" cy="75.6" r="7.7" fill="url(#g80ef49)"/>
<circle cx="165.6" cy="77.3" r="9.6" fill="url(#g5ccaff)"/>
<circle cx="165.6" cy="76" r="4.5" fill="url(#g3793ff)"/>
<circle cx="175.9" cy="38.7" r="4.5" fill="url(#g2163e7)"/>
<circle cx="110.6" cy="97.1" r="5.6" fill="url(#g203090)"/>
<circle cx="165.6" cy="112.5" r="6.1" fill="url(#g2142c6)"/>
<circle cx="155" cy="3.4" r="9.6" fill="url(#g1a2ac0)"/>
<circle cx="144" cy="85.9" r="3.8" fill="url(#g2142b6)"/>
</g></g>
<text x="0" y="0" font-family="'Liberation Serif', serif" font-size="22.273" font-weight="bold" fill="#000" transform="translate(478.45 399.70) scale(0.9837 1)">100 µM AITC</text>
<clipPath id="c11"><rect x="456.9" y="410" width="178.70000000000005" height="118.39999999999998"/></clipPath>
<rect x="456.9" y="410" width="178.70000000000005" height="118.39999999999998" fill="#020305"/>
<g clip-path="url(#c11)"><g filter="url(#blH)" transform="translate(456.9 410)">
<circle cx="35" cy="15" r="30" fill="#2c5c40"/>
<circle cx="65" cy="35" r="20" fill="#3a3a30"/>
<circle cx="15" cy="50" r="22" fill="#183448"/>
<circle cx="20" cy="95" r="20" fill="#0c1c34"/>
<circle cx="75" cy="45" r="14" fill="#401810"/>
</g>
<g filter="url(#bl)" transform="translate(456.9 410)">
<circle cx="39.9" cy="8.6" r="14.1" fill="url(#g306e37)"/>
<circle cx="53.6" cy="21.5" r="12.8" fill="url(#g1a4060)"/>
<circle cx="55" cy="38" r="12.8" fill="url(#g15304a)"/>
<circle cx="64.8" cy="38.7" r="9.6" fill="url(#g3a1010)"/>
<circle cx="3.8" cy="5.2" r="5.8" fill="url(#g249393)"/>
<circle cx="27.8" cy="5.2" r="5.8" fill="url(#g3793dc)"/>
<circle cx="0.3" cy="16.3" r="5.1" fill="url(#g2152d7)"/>
<circle cx="17" cy="16" r="5.5" fill="url(#g49dc49)"/>
<circle cx="23" cy="24" r="7.0" fill="url(#gffdc37)"/>
<circle cx="22" cy="26" r="3.8" fill="url(#gffff5c)"/>
<circle cx="74.2" cy="11.2" r="9.6" fill="url(#g935c24)"/>
<circle cx="74.2" cy="11.2" r="5.1" fill="url(#g5cb837)"/>
<circle cx="100" cy="13.7" r="6.4" fill="url(#g2142c6)"/>
<circle cx="136.1" cy="10.3" r="7.7" fill="url(#gff5c24)"/>
<circle cx="136.1" cy="10.3" r="3.8" fill="url(#gffdc49)"/>
<circle cx="132" cy="17" r="6.7" fill="url(#g6effff)"/>
<circle cx="113" cy="27.5" r="6.1" fill="url(#gdcb824)"/>
<circle cx="113" cy="27.5" r="3.8" fill="url(#g93dc37)"/>
<circle cx="93" cy="35.2" r="6.4" fill="url(#g2152c6)"/>
<circle cx="79" cy="46.4" r="10.9" fill="url(#gdc3724)"/>
<circle cx="79.5" cy="45.5" r="5.1" fill="url(#gdc9324)"/>
<circle cx="53" cy="56" r="8.3" fill="url(#gffff49)"/>
<circle cx="53.6" cy="22.3" r="3.2" fill="url(#g3793ef)"/>
<circle cx="8.1" cy="54.1" r="9.6" fill="url(#g2b6395)"/>
<circle cx="8.1" cy="54.1" r="4.5" fill="url(#g2152c6)"/>
<circle cx="10.5" cy="70.4" r="5.5" fill="url(#g6edc37)"/>
<circle cx="60.5" cy="75.6" r="6.4" fill="url(#g1a3060)"/>
<polygon points="80.5,66.4 71.5,84.4 92.4,85.4" fill="#65caff" stroke="#65caff" stroke-width="1.5" stroke-linejoin="round" opacity="1" filter="url(#blT)"/>
<circle cx="82" cy="79" r="5.1" fill="url(#g2952f8)"/>
<circle cx="24" cy="87.6" r="5.8" fill="url(#g2142a5)"/>
<circle cx="4.6" cy="100.5" r="7.2" fill="url(#g2030a0)"/>
<circle cx="7" cy="80" r="8.0" fill="url(#g1a3a50)"/>
<circle cx="73" cy="109.1" r="6.7" fill="url(#gdcff49)"/>
<circle cx="151" cy="75.6" r="7.7" fill="url(#g80ef49)"/>
<circle cx="165.6" cy="77.3" r="9.6" fill="url(#g5ccaff)"/>
<circle cx="165.6" cy="76" r="4.5" fill="url(#g3793ff)"/>
<circle cx="175.9" cy="38.7" r="4.5" fill="url(#g2163e7)"/>
<circle cx="110.6" cy="97.1" r="5.6" fill="url(#g203090)"/>
<circle cx="165.6" cy="112.5" r="6.1" fill="url(#g2142c6)"/>
<circle cx="155" cy="3.4" r="9.6" fill="url(#g1a2ac0)"/>
<circle cx="144" cy="85.9" r="3.8" fill="url(#g2142b6)"/>
</g></g>
<text x="0" y="0" font-family="'Liberation Serif', serif" font-size="20.290" font-weight="bold" fill="#000" transform="translate(665.88 399.30) scale(1.0567 1)">10 µM Capsaicin</text>
<clipPath id="c12"><rect x="655.4" y="410" width="178.20000000000005" height="118.39999999999998"/></clipPath>
<rect x="655.4" y="410" width="178.20000000000005" height="118.39999999999998" fill="#020305"/>
<g clip-path="url(#c12)"><g filter="url(#blH)" transform="translate(655.4 410)">
<circle cx="35" cy="15" r="30" fill="#4a3a28"/>
<circle cx="65" cy="35" r="20" fill="#303a38"/>
<circle cx="15" cy="50" r="22" fill="#183448"/>
<circle cx="20" cy="95" r="20" fill="#0c1c34"/>
<circle cx="80" cy="45" r="14" fill="#401810"/>
</g>
<g filter="url(#bl)" transform="translate(655.4 410)">
<circle cx="40.4" cy="15.8" r="11.5" fill="url(#gb83724)"/>
<circle cx="55" cy="30" r="19.2" fill="url(#g1a4050)"/>
<circle cx="62" cy="40" r="11.2" fill="url(#g3a1010)"/>
<circle cx="6.9" cy="4.6" r="6.4" fill="url(#g49b849)"/>
<circle cx="33.5" cy="5.5" r="6.4" fill="url(#g49b8ca)"/>
<circle cx="2.6" cy="15" r="5.1" fill="url(#g2163d7)"/>
<circle cx="19.8" cy="17.5" r="5.8" fill="url(#g5cdc49)"/>
<circle cx="25.8" cy="25.3" r="7.7" fill="url(#g5ccaff)"/>
<circle cx="77.3" cy="11.5" r="9.0" fill="url(#g936e24)"/>
<circle cx="77.3" cy="11.5" r="4.5" fill="url(#g80b837)"/>
<circle cx="104" cy="13.2" r="6.4" fill="url(#g2152c6)"/>
<circle cx="140.9" cy="9.8" r="7.7" fill="url(#gff4924)"/>
<circle cx="140.9" cy="9.8" r="3.8" fill="url(#gffdc49)"/>
<circle cx="134.9" cy="17.5" r="7.0" fill="url(#g6effff)"/>
<circle cx="116" cy="28.7" r="6.4" fill="url(#g5cb8ff)"/>
<circle cx="95.4" cy="35.6" r="7.0" fill="url(#g2152b6)"/>
<circle cx="81.6" cy="46.7" r="11.5" fill="url(#gef3724)"/>
<circle cx="55" cy="56.2" r="8.3" fill="url(#g49b8ff)"/>
<circle cx="8.6" cy="54.5" r="10.2" fill="url(#g2b6384)"/>
<circle cx="8.6" cy="54.5" r="4.5" fill="url(#g2152c6)"/>
<circle cx="12" cy="70.8" r="5.8" fill="url(#g49dcdc)"/>
<circle cx="62" cy="75" r="6.4" fill="url(#g1a3060)"/>
<polygon points="83.7,65.9 74.7,83.9 95.6,84.9" fill="#65d3ff" stroke="#65d3ff" stroke-width="1.5" stroke-linejoin="round" opacity="1" filter="url(#blT)"/>
<circle cx="85" cy="79" r="5.1" fill="url(#g295bf0)"/>
<circle cx="24.9" cy="88" r="5.8" fill="url(#g2142a5)"/>
<circle cx="6" cy="100" r="7.2" fill="url(#g2030a0)"/>
<circle cx="7" cy="82" r="8.0" fill="url(#g1a3a50)"/>
<circle cx="75.6" cy="109.5" r="7.7" fill="url(#g80ffff)"/>
<circle cx="152.9" cy="75.9" r="7.7" fill="url(#g5ccaff)"/>
<circle cx="168.4" cy="78.5" r="9.6" fill="url(#g6edcef)"/>
<circle cx="168.4" cy="77" r="4.5" fill="url(#g3793ff)"/>
<circle cx="176" cy="38" r="3.8" fill="url(#g2163e7)"/>
<circle cx="113.4" cy="97.4" r="5.6" fill="url(#g203090)"/>
<circle cx="167.5" cy="112.9" r="6.1" fill="url(#g2142c6)"/>
<circle cx="160.7" cy="2.9" r="11.2" fill="url(#g2030c0)"/>
<circle cx="146" cy="86" r="3.8" fill="url(#g2142b6)"/>
</g></g>
<text x="0" y="0" font-family="'Liberation Serif', serif" font-size="21.449" font-weight="bold" fill="#000" transform="translate(893.83 399.70) scale(1.0089 1)">56 mM KCl</text>
<clipPath id="c13"><rect x="853.4" y="410" width="177.69999999999993" height="118.39999999999998"/></clipPath>
<rect x="853.4" y="410" width="177.69999999999993" height="118.39999999999998" fill="#020305"/>
<g clip-path="url(#c13)"><g filter="url(#blH)" transform="translate(853.4 410)">
<circle cx="35" cy="15" r="30" fill="#5a4020"/>
<circle cx="65" cy="35" r="20" fill="#503020"/>
<circle cx="15" cy="50" r="22" fill="#2a3020"/>
<circle cx="20" cy="95" r="20" fill="#101820"/>
<circle cx="75" cy="45" r="14" fill="#501810"/>
</g>
<g filter="url(#bl)" transform="translate(853.4 410)">
<circle cx="35" cy="15" r="17.6" fill="url(#g5a2010)"/>
<circle cx="50" cy="30" r="12.8" fill="url(#g2a4020)"/>
<circle cx="62" cy="40" r="9.6" fill="url(#g3a1010)"/>
<circle cx="3" cy="5" r="5.8" fill="url(#gdc6e24)"/>
<circle cx="28" cy="5" r="5.8" fill="url(#g6eca37)"/>
<circle cx="16" cy="19" r="5.5" fill="url(#gff6e24)"/>
<circle cx="21.5" cy="25" r="7.7" fill="url(#gdcef49)"/>
<circle cx="71" cy="13" r="9.6" fill="url(#g936e24)"/>
<circle cx="71" cy="13" r="5.1" fill="url(#g80b837)"/>
<circle cx="97" cy="14" r="6.4" fill="url(#g2142c6)"/>
<circle cx="135" cy="11" r="7.7" fill="url(#gff5c24)"/>
<circle cx="135" cy="11" r="3.8" fill="url(#gffdc49)"/>
<circle cx="129.5" cy="18" r="6.7" fill="url(#gdcef49)"/>
<circle cx="111" cy="28" r="6.1" fill="url(#gdcdc37)"/>
<circle cx="88" cy="35" r="6.4" fill="url(#g6e9337)"/>
<circle cx="77" cy="46" r="10.9" fill="url(#gff3724)"/>
<circle cx="77.5" cy="45.5" r="3.8" fill="url(#gdc6e37)"/>
<circle cx="50" cy="56" r="8.3" fill="url(#gffff49)"/>
<circle cx="7" cy="54" r="9.6" fill="url(#g6e6e24)"/>
<circle cx="6" cy="70" r="5.5" fill="url(#gdcdc37)"/>
<polygon points="77.5,66.1 68.5,84.1 89.4,85.1" fill="#dcca37" stroke="#dcca37" stroke-width="1.5" stroke-linejoin="round" opacity="1" filter="url(#blT)"/>
<circle cx="78" cy="79" r="6.4" fill="url(#gff5c24)"/>
<circle cx="77" cy="68" r="4.5" fill="url(#g49dcef)"/>
<circle cx="21" cy="87" r="5.8" fill="url(#g2142a5)"/>
<circle cx="3" cy="100" r="7.2" fill="url(#g2030a0)"/>
<circle cx="70" cy="109" r="6.7" fill="url(#gffdc37)"/>
<circle cx="146" cy="75" r="7.7" fill="url(#gffca37)"/>
<circle cx="161" cy="76" r="9.6" fill="url(#gff3724)"/>
<circle cx="161" cy="80" r="4.5" fill="url(#g6eca37)"/>
<circle cx="174" cy="38" r="4.5" fill="url(#g37b8ff)"/>
<circle cx="107" cy="97" r="5.6" fill="url(#g203090)"/>
<circle cx="162" cy="112" r="6.1" fill="url(#gdc4924)"/>
<circle cx="162" cy="113" r="3.2" fill="url(#g6edc37)"/>
<circle cx="62" cy="75" r="6.4" fill="url(#g1a3060)"/>
</g></g>
<text x="0" y="0" font-family="'Liberation Serif', serif" font-size="14.000" font-weight="bold" stroke="#fff" stroke-width="0.35" fill="#fff" transform="translate(991.49 503.80) scale(0.9038 1)">25 µm</text>
<rect x="993.2" y="510.1" width="30.699999999999932" height="4.899999999999977" fill="#fff" stroke="none" stroke-width="1"/>
<text x="0" y="0" font-family="'Liberation Serif', serif" font-size="21.515" font-weight="bold" font-style="italic" fill="#000" transform="translate(44.40 508.70) rotate(-90) translate(-1.44 0) scale(0.9567 1)">Trpv1</text>
<line x1="29.5" y1="459.5" x2="29.5" y2="448.7" stroke="#000" stroke-width="1.4" stroke-linecap="butt"/>
<line x1="36.3" y1="447.3" x2="22.1" y2="437.2" stroke="#000" stroke-width="1.6" stroke-linecap="butt"/>
<line x1="29.5" y1="436.6" x2="29.5" y2="427.1" stroke="#000" stroke-width="1.4" stroke-linecap="butt"/>
<text x="0" y="0" font-family="'Liberation Serif', serif" font-size="31.846" font-weight="bold" fill="#000" transform="translate(1.59 564.70) scale(0.9577 1)">E</text>
<text x="0" y="0" font-family="'Liberation Serif', serif" font-size="20.455" font-weight="bold" font-style="italic" fill="#000" transform="translate(88.92 570.20) scale(0.9628 1)">Trpa1</text>
<line x1="138.2" y1="557" x2="147.1" y2="557" stroke="#000" stroke-width="1.4" stroke-linecap="butt"/>
<line x1="148.1" y1="563.3" x2="156.1" y2="550.2" stroke="#000" stroke-width="1.6" stroke-linecap="butt"/>
<line x1="156.5" y1="557" x2="165" y2="557" stroke="#000" stroke-width="1.4" stroke-linecap="butt"/>
<line x1="83.7" y1="592.5" x2="83.7" y2="744.35" stroke="#000" stroke-width="1.3" stroke-linecap="butt"/>
<line x1="83.05" y1="743.7" x2="317.75" y2="743.7" stroke="#000" stroke-width="1.3" stroke-linecap="butt"/>
<line x1="79.2" y1="722.1" x2="83.7" y2="722.1" stroke="#000" stroke-width="1.3" stroke-linecap="butt"/>
<text x="77" y="725.5" font-family="'Liberation Sans', sans-serif" font-size="9" font-weight="bold" text-anchor="end" fill="#000" transform="translate(77 725.5) scale(1 1.1) translate(-77 -725.5)">1.0</text>
<line x1="79.2" y1="678.9" x2="83.7" y2="678.9" stroke="#000" stroke-width="1.3" stroke-linecap="butt"/>
<text x="77" y="682.3" font-family="'Liberation Sans', sans-serif" font-size="9" font-weight="bold" text-anchor="end" fill="#000" transform="translate(77 682.3) scale(1 1.1) translate(-77 -682.3)">1.2</text>
<line x1="79.2" y1="635.7" x2="83.7" y2="635.7" stroke="#000" stroke-width="1.3" stroke-linecap="butt"/>
<text x="77" y="639.1" font-family="'Liberation Sans', sans-serif" font-size="9" font-weight="bold" text-anchor="end" fill="#000" transform="translate(77 639.1) scale(1 1.1) translate(-77 -639.1)">1.4</text>
<line x1="79.2" y1="592.5" x2="83.7" y2="592.5" stroke="#000" stroke-width="1.3" stroke-linecap="butt"/>
<text x="77" y="595.9" font-family="'Liberation Sans', sans-serif" font-size="9" font-weight="bold" text-anchor="end" fill="#000" transform="translate(77 595.9) scale(1 1.1) translate(-77 -595.9)">1.6</text>
<line x1="83.7" y1="743.7" x2="83.7" y2="748.2" stroke="#000" stroke-width="1.3" stroke-linecap="butt"/>
<text x="83.7" y="759.2" font-family="'Liberation Sans', sans-serif" font-size="9" font-weight="bold" text-anchor="middle" fill="#000" transform="translate(83.7 759.2) scale(1 1.1) translate(-83.7 -759.2)">0</text>
<line x1="130.38" y1="743.7" x2="130.38" y2="748.2" stroke="#000" stroke-width="1.3" stroke-linecap="butt"/>
<text x="130.38" y="759.2" font-family="'Liberation Sans', sans-serif" font-size="9" font-weight="bold" text-anchor="middle" fill="#000" transform="translate(130.38 759.2) scale(1 1.1) translate(-130.38 -759.2)">200</text>
<line x1="177.06" y1="743.7" x2="177.06" y2="748.2" stroke="#000" stroke-width="1.3" stroke-linecap="butt"/>
<text x="177.06" y="759.2" font-family="'Liberation Sans', sans-serif" font-size="9" font-weight="bold" text-anchor="middle" fill="#000" transform="translate(177.06 759.2) scale(1 1.1) translate(-177.06 -759.2)">400</text>
<line x1="223.74" y1="743.7" x2="223.74" y2="748.2" stroke="#000" stroke-width="1.3" stroke-linecap="butt"/>
<text x="223.74" y="759.2" font-family="'Liberation Sans', sans-serif" font-size="9" font-weight="bold" text-anchor="middle" fill="#000" transform="translate(223.74 759.2) scale(1 1.1) translate(-223.74 -759.2)">600</text>
<line x1="270.42" y1="743.7" x2="270.42" y2="748.2" stroke="#000" stroke-width="1.3" stroke-linecap="butt"/>
<text x="270.42" y="759.2" font-family="'Liberation Sans', sans-serif" font-size="9" font-weight="bold" text-anchor="middle" fill="#000" transform="translate(270.42 759.2) scale(1 1.1) translate(-270.42 -759.2)">800</text>
<line x1="317.1" y1="743.7" x2="317.1" y2="748.2" stroke="#000" stroke-width="1.3" stroke-linecap="butt"/>
<text x="317.1" y="759.2" font-family="'Liberation Sans', sans-serif" font-size="9" font-weight="bold" text-anchor="middle" fill="#000" transform="translate(317.1 759.2) scale(1 1.1) translate(-317.1 -759.2)">1000</text>
<text x="0" y="0" font-family="'Liberation Sans', sans-serif" font-size="10.000" font-weight="bold" fill="#000" transform="translate(181.90 776.50) scale(1.0460 1)">Time(s)</text>
<text x="0" y="0" font-family="'Liberation Sans', sans-serif" font-size="11.233" font-weight="bold" fill="#000" transform="translate(60.10 718.40) rotate(-90) translate(-0.69 0) scale(0.8801 1)">Normalized ΔF340/380</text>
<polygon points="248.0,646.4 252.3,646.8 258.9,650.7 267.6,654.0 278.5,653.6 280.3,634.4 281.8,619.1 285.1,621.3 291.6,624.6 306.9,629.6 306.9,638.6 291.6,633.6 285.1,630.3 281.8,628.1 280.3,643.4 278.5,662.6 267.6,663.0 258.9,659.7 252.3,655.8 248.0,655.4" fill="#FCE6D4" stroke="none"/>
<polyline points="83.7,721.5 84.4,721.8 85.1,721.5 85.8,722.0 86.5,721.8 87.2,721.9 87.9,722.4 88.6,722.2 89.3,722.2 90.1,722.5 90.8,722.6 91.5,722.5 92.2,722.7 92.9,722.5 93.6,722.7 94.3,722.8 95.0,722.8 95.7,722.8 96.5,722.8 97.2,723.1 98.0,723.2 98.7,723.2 99.4,723.3 100.2,723.1 100.9,723.4 101.7,723.5 102.4,723.6 103.1,723.4 103.9,723.5 104.6,723.2 105.4,723.6 106.1,723.3 106.8,723.3 107.6,723.7 108.3,723.0 109.1,723.4 109.8,723.3 110.5,723.0 111.3,723.1 112.0,723.0 112.8,723.0 113.5,722.7 114.3,722.5 115.0,722.4 115.7,722.2 116.4,722.2 117.2,721.9 117.9,722.0 118.6,721.3 119.3,721.3 120.0,721.2 120.7,720.8 121.4,721.3 122.2,720.4 122.9,720.6 123.6,720.4 124.3,720.6 125.0,719.7 125.7,719.6 126.4,719.5 127.2,718.0 127.9,719.1 128.6,719.2 129.3,718.9 130.0,718.4 130.8,717.7 131.7,718.4 132.6,718.1 133.4,718.0 134.3,718.3 135.1,718.9 136.0,719.6 136.7,718.2 137.4,719.6 138.1,720.1 138.8,719.7 139.5,719.6 140.3,719.9 141.0,719.7 141.8,719.9 142.5,720.2 143.3,720.0 144.0,719.9 144.8,720.3 145.5,720.2 146.3,720.4 147.0,720.5 147.8,720.3 148.5,720.4 149.3,720.4 150.0,720.3 150.7,720.7 151.4,720.8 152.1,720.6 152.8,720.6 153.6,720.6 154.3,720.6 155.0,720.6 155.7,720.7 156.4,720.6 157.1,720.8 157.8,720.6 158.5,721.0 159.2,720.9 160.0,720.8 160.7,720.6 161.4,721.0 162.1,721.3 162.8,721.0 163.5,720.9 164.2,720.7 164.9,720.7 165.6,720.3 166.3,720.5 167.0,720.1 167.8,720.1 168.5,719.8 169.2,719.6 169.9,719.2 170.6,719.2 171.3,719.1 172.0,719.1 172.7,718.9 173.5,718.6 174.2,718.7 175.0,718.7 175.7,718.3 176.5,718.1 177.2,718.0 177.9,718.1 178.7,717.9 179.4,717.5 180.2,717.7 180.9,717.4 181.7,717.2 182.4,717.4 183.1,717.4 183.8,717.1 184.5,717.3 185.2,717.4 185.9,717.2 186.6,717.3 187.3,717.4 188.0,717.0 188.7,717.4 189.4,717.5 190.1,717.5 190.8,717.2 191.6,717.5 192.3,717.3 193.0,717.5 193.7,717.6 194.4,717.5 195.1,717.4 195.8,717.4 196.5,717.7 197.2,717.4 197.9,717.6 198.6,717.7 199.3,717.5 200.0,718.0 200.7,717.6 201.4,717.9 202.1,717.2 202.9,717.1 203.6,717.7 204.3,717.6 205.0,717.4 205.7,717.4 206.4,717.1 207.1,717.3 207.9,717.2 208.6,717.3 209.3,717.5 210.0,717.3 210.7,717.4 211.4,717.2 212.1,717.2 212.9,717.3 213.6,717.2 214.3,717.4 215.0,717.0 215.7,717.5 216.4,717.0 217.2,717.4 217.9,717.1 218.6,717.5 219.3,717.3 220.1,717.3 220.8,717.4 221.5,717.2 222.2,717.1 222.9,716.9 223.7,717.5 224.4,717.2 225.1,717.2 225.8,717.3 226.5,717.7 227.3,717.0 228.0,717.4 228.7,717.3 229.4,717.5 230.2,717.1 230.9,717.3 231.6,717.6 232.7,671.9 233.8,667.5 234.6,664.9 235.4,662.9 236.3,660.7 237.1,658.3 237.8,657.3 238.5,656.8 239.2,655.8 240.0,654.8 240.7,654.1 241.4,652.8 242.1,652.9 242.9,652.5 243.6,652.3 244.3,652.2 245.1,651.9 245.8,651.6 246.5,651.4 247.3,651.5 248.0,650.8 248.7,651.1 249.4,651.1 250.2,651.0 250.9,651.3 251.6,651.1 252.3,651.5 253.0,651.6 253.8,652.1 254.5,652.7 255.2,653.2 256.0,653.6 256.7,654.1 257.4,654.3 258.2,654.6 258.9,655.3 259.6,655.5 260.3,655.6 261.1,656.2 261.8,656.3 262.5,656.4 263.2,656.9 264.0,656.9 264.7,657.2 265.4,657.7 266.2,657.7 266.9,658.2 267.6,658.3 268.3,658.6 269.1,658.3 269.8,658.5 270.5,658.1 271.2,658.3 272.0,658.5 272.7,658.4 273.4,658.0 274.1,658.4 274.9,658.4 275.6,658.1 276.3,658.4 277.0,658.0 277.8,658.1 278.5,658.3 279.4,648.7 280.3,639.1 281.1,631.1 281.8,623.3 282.6,624.2 283.5,624.4 284.3,625.8 285.1,625.9 285.8,628.4 286.5,626.6 287.3,627.2 288.0,627.3 288.7,627.5 289.4,627.7 290.2,628.4 290.9,628.7 291.6,629.1 292.3,629.3 293.1,629.7 293.8,629.9 294.5,630.1 295.2,630.4 296.0,630.5 296.7,630.6 297.4,632.1 298.2,631.4 298.9,631.2 299.6,631.9 300.3,632.0 301.1,631.9 301.8,632.2 302.5,632.6 303.3,632.7 304.0,632.8 304.7,633.4 305.4,633.7 306.2,633.9 306.9,634.1" fill="none" stroke="#F59A42" stroke-width="1.7" stroke-linejoin="round" stroke-linecap="round"/>
<text x="0" y="0" font-family="'Liberation Serif', serif" font-size="12.424" font-weight="bold" fill="#000" transform="translate(91.38 698.80) scale(1.0289 1)">100 µM DMI</text>
<line x1="113.3" y1="707.4" x2="139.8" y2="707.4" stroke="#000" stroke-width="2.3" stroke-linecap="butt"/>
<text x="0" y="0" font-family="'Liberation Serif', serif" font-size="11.970" font-weight="bold" fill="#000" transform="translate(171.28 682.80) scale(1.0655 1)">100 µM</text>
<text x="0" y="0" font-family="'Liberation Serif', serif" font-size="12.424" font-weight="bold" fill="#000" transform="translate(178.17 698.80) scale(1.0387 1)">AITC</text>
<line x1="175" y1="702.6" x2="217.1" y2="702.6" stroke="#000" stroke-width="2.3" stroke-linecap="butt"/>
<text x="0" y="0" font-family="'Liberation Serif', serif" font-size="11.970" font-weight="bold" fill="#000" transform="translate(226.98 624.20) scale(1.0616 1)">10 µM</text>
<text x="0" y="0" font-family="'Liberation Serif', serif" font-size="10.870" font-weight="bold" fill="#000" transform="translate(219.46 639.40) scale(1.1832 1)">Capsaicin</text>
<line x1="229.2" y1="645.8" x2="275.2" y2="645.8" stroke="#000" stroke-width="2.3" stroke-linecap="butt"/>
<text x="0" y="0" font-family="'Liberation Serif', serif" font-size="11.449" font-weight="bold" fill="#000" transform="translate(261.98 592.90) scale(1.1364 1)">56mM KCl</text>
<line x1="266.6" y1="599.5" x2="328.9" y2="599.5" stroke="#000" stroke-width="2.3" stroke-linecap="butt"/>
<text x="0" y="0" font-family="'Liberation Serif', serif" font-size="32.000" font-weight="bold" fill="#000" transform="translate(336.36 564.80) scale(0.9954 1)">F</text>
<line x1="388.1" y1="589" x2="388.1" y2="742.35" stroke="#000" stroke-width="1.3" stroke-linecap="butt"/>
<line x1="387.45000000000005" y1="741.7" x2="529.5" y2="741.7" stroke="#000" stroke-width="1.3" stroke-linecap="butt"/>
<line x1="383.8" y1="741.7" x2="388.1" y2="741.7" stroke="#000" stroke-width="1.3" stroke-linecap="butt"/>
<text x="381.8" y="745.1" font-family="'Liberation Sans', sans-serif" font-size="9" font-weight="bold" text-anchor="end" fill="#000" transform="translate(381.8 745.1) scale(1 1.1) translate(-381.8 -745.1)">0</text>
<line x1="383.8" y1="711.1600000000001" x2="388.1" y2="711.1600000000001" stroke="#000" stroke-width="1.3" stroke-linecap="butt"/>
<text x="381.8" y="714.5600000000001" font-family="'Liberation Sans', sans-serif" font-size="9" font-weight="bold" text-anchor="end" fill="#000" transform="translate(381.8 714.5600000000001) scale(1 1.1) translate(-381.8 -714.5600000000001)">20</text>
<line x1="383.8" y1="680.62" x2="388.1" y2="680.62" stroke="#000" stroke-width="1.3" stroke-linecap="butt"/>
<text x="381.8" y="684.02" font-family="'Liberation Sans', sans-serif" font-size="9" font-weight="bold" text-anchor="end" fill="#000" transform="translate(381.8 684.02) scale(1 1.1) translate(-381.8 -684.02)">40</text>
<line x1="383.8" y1="650.08" x2="388.1" y2="650.08" stroke="#000" stroke-width="1.3" stroke-linecap="butt"/>
<text x="381.8" y="653.48" font-family="'Liberation Sans', sans-serif" font-size="9" font-weight="bold" text-anchor="end" fill="#000" transform="translate(381.8 653.48) scale(1 1.1) translate(-381.8 -653.48)">60</text>
<line x1="383.8" y1="619.5400000000001" x2="388.1" y2="619.5400000000001" stroke="#000" stroke-width="1.3" stroke-linecap="butt"/>
<text x="381.8" y="622.94" font-family="'Liberation Sans', sans-serif" font-size="9" font-weight="bold" text-anchor="end" fill="#000" transform="translate(381.8 622.94) scale(1 1.1) translate(-381.8 -622.94)">80</text>
<line x1="383.8" y1="589.0" x2="388.1" y2="589.0" stroke="#000" stroke-width="1.3" stroke-linecap="butt"/>
<text x="381.8" y="592.4" font-family="'Liberation Sans', sans-serif" font-size="9" font-weight="bold" text-anchor="end" fill="#000" transform="translate(381.8 592.4) scale(1 1.1) translate(-381.8 -592.4)">100</text>
<line x1="410.1" y1="741.7" x2="410.1" y2="746" stroke="#000" stroke-width="1.3" stroke-linecap="butt"/>
<text x="410.1" y="756.3" font-family="'Liberation Sans', sans-serif" font-size="9" font-weight="bold" text-anchor="middle" fill="#000" transform="translate(410.1 756.3) scale(1 1.1) translate(-410.1 -756.3)">Veh</text>
<line x1="443.1" y1="741.7" x2="443.1" y2="746" stroke="#000" stroke-width="1.3" stroke-linecap="butt"/>
<text x="443.1" y="756.3" font-family="'Liberation Sans', sans-serif" font-size="9" font-weight="bold" text-anchor="middle" fill="#000" transform="translate(443.1 756.3) scale(1 1.1) translate(-443.1 -756.3)">DMI</text>
<line x1="475.1" y1="741.7" x2="475.1" y2="746" stroke="#000" stroke-width="1.3" stroke-linecap="butt"/>
<text x="475.1" y="756.3" font-family="'Liberation Sans', sans-serif" font-size="9" font-weight="bold" text-anchor="middle" fill="#000" transform="translate(475.1 756.3) scale(1 1.1) translate(-475.1 -756.3)">AITC</text>
<line x1="507.5" y1="741.7" x2="507.5" y2="746" stroke="#000" stroke-width="1.3" stroke-linecap="butt"/>
<text x="507.5" y="756.3" font-family="'Liberation Sans', sans-serif" font-size="9" font-weight="bold" text-anchor="middle" fill="#000" transform="translate(507.5 756.3) scale(1 1.1) translate(-507.5 -756.3)">CAP</text>
<text x="0" y="0" font-family="'Liberation Sans', sans-serif" font-size="10.000" font-weight="bold" fill="#000" transform="translate(361.70 750.80) rotate(-90) translate(-0.69 0) scale(0.9868 1)">Normalized % of response amplitude</text>
<path d="M433.50,741.7 L433.50,734.80 L452.50,734.80 L452.50,741.7" fill="none" stroke="#F00" stroke-width="1.8"/>
<path d="M465.90,741.7 L465.90,735.50 L485.20,735.50 L485.20,741.7" fill="none" stroke="#0C0" stroke-width="1.8"/>
<path d="M498.10,741.7 L498.10,641.80 L517.80,641.80 L517.80,741.7" fill="none" stroke="#B0F" stroke-width="1.8"/>
<line x1="387.45000000000005" y1="741.7" x2="529.5" y2="741.7" stroke="#000" stroke-width="1.3" stroke-linecap="butt"/>
<line x1="403.3" y1="741.7" x2="417.3" y2="741.7" stroke="#00F" stroke-width="1.6" stroke-linecap="butt"/>
<circle cx="403.3" cy="741.7" r="2.0" fill="none" stroke="#00F" stroke-width="1.3"/>
<circle cx="410" cy="741.7" r="2.0" fill="none" stroke="#00F" stroke-width="1.3"/>
<circle cx="417.3" cy="741.7" r="2.0" fill="none" stroke="#00F" stroke-width="1.3"/>
<line x1="442.9" y1="731.7" x2="442.9" y2="733.9" stroke="#F00" stroke-width="1.2" stroke-linecap="butt"/>
<line x1="437.7" y1="731.7" x2="447.6" y2="731.7" stroke="#F00" stroke-width="1.2" stroke-linecap="butt"/>
<circle cx="442.9" cy="732.2" r="2.1" fill="none" stroke="#F00" stroke-width="1.3"/>
<circle cx="449.9" cy="730.1" r="2.1" fill="none" stroke="#F00" stroke-width="1.3"/>
<circle cx="442.9" cy="736.9" r="2.1" fill="none" stroke="#F00" stroke-width="1.3"/>
<circle cx="468.2" cy="736" r="2.1" fill="none" stroke="#0C0" stroke-width="1.3"/>
<circle cx="475.3" cy="731.7" r="2.1" fill="none" stroke="#0C0" stroke-width="1.3"/>
<circle cx="482.8" cy="732.7" r="2.1" fill="none" stroke="#0C0" stroke-width="1.3"/>
<line x1="508" y1="637.3" x2="508" y2="640.9" stroke="#B0F" stroke-width="1.3" stroke-linecap="butt"/>
<line x1="502.6" y1="637.3" x2="513.1" y2="637.3" stroke="#B0F" stroke-width="1.3" stroke-linecap="butt"/>
<circle cx="508" cy="633.5" r="2.2" fill="none" stroke="#B0F" stroke-width="1.3"/>
<circle cx="501" cy="645.7" r="2.2" fill="none" stroke="#B0F" stroke-width="1.3"/>
<circle cx="515.4" cy="643.4" r="2.2" fill="none" stroke="#B0F" stroke-width="1.3"/>
<line x1="409" y1="617.2" x2="508.7" y2="617.2" stroke="#000" stroke-width="1.7" stroke-linecap="butt"/>
<text x="0" y="0" font-family="'Liberation Sans', sans-serif" font-size="9.753" font-weight="normal" font-style="italic" fill="#000" transform="translate(451.30 611.22) scale(0.9948 1)">$$$</text>
<line x1="409.4" y1="705" x2="476.4" y2="705" stroke="#000" stroke-width="1.7" stroke-linecap="butt"/>
<text x="0" y="0" font-family="'Liberation Sans', sans-serif" font-size="9.818" font-weight="normal" fill="#000" transform="translate(437.86 699.90) scale(1.0721 1)">ns</text>
<line x1="409.4" y1="722" x2="442.5" y2="722" stroke="#000" stroke-width="1.7" stroke-linecap="butt"/>
<text x="0" y="0" font-family="'Liberation Sans', sans-serif" font-size="10.182" font-weight="normal" fill="#000" transform="translate(420.35 716.70) scale(1.0545 1)">ns</text>
<text x="0" y="0" font-family="'Liberation Serif', serif" font-size="31.970" font-weight="bold" fill="#000" transform="translate(532.66 564.48) scale(0.9652 1)">G</text>
<text x="0" y="0" font-family="'Liberation Serif', serif" font-size="20.303" font-weight="bold" font-style="italic" fill="#000" transform="translate(570.83 570.20) scale(0.9608 1)">Trpv1</text>
<line x1="618.3" y1="557.3" x2="625.9" y2="557.3" stroke="#000" stroke-width="1.4" stroke-linecap="butt"/>
<line x1="628" y1="563.2" x2="636.4" y2="550.5" stroke="#000" stroke-width="1.6" stroke-linecap="butt"/>
<line x1="635.6" y1="557.3" x2="645.3" y2="557.3" stroke="#000" stroke-width="1.4" stroke-linecap="butt"/>
<line x1="573.6" y1="589" x2="573.6" y2="741.35" stroke="#000" stroke-width="1.3" stroke-linecap="butt"/>
<line x1="572.95" y1="740.7" x2="807" y2="740.7" stroke="#000" stroke-width="1.3" stroke-linecap="butt"/>
<line x1="569.1" y1="740.3" x2="573.6" y2="740.3" stroke="#000" stroke-width="1.3" stroke-linecap="butt"/>
<text x="567" y="743.6999999999999" font-family="'Liberation Sans', sans-serif" font-size="9" font-weight="bold" text-anchor="end" fill="#000" transform="translate(567 743.6999999999999) scale(1 1.1) translate(-567 -743.6999999999999)">0.8</text>
<line x1="569.1" y1="702.4" x2="573.6" y2="702.4" stroke="#000" stroke-width="1.3" stroke-linecap="butt"/>
<text x="567" y="705.8" font-family="'Liberation Sans', sans-serif" font-size="9" font-weight="bold" text-anchor="end" fill="#000" transform="translate(567 705.8) scale(1 1.1) translate(-567 -705.8)">1.0</text>
<line x1="569.1" y1="664.5" x2="573.6" y2="664.5" stroke="#000" stroke-width="1.3" stroke-linecap="butt"/>
<text x="567" y="667.9" font-family="'Liberation Sans', sans-serif" font-size="9" font-weight="bold" text-anchor="end" fill="#000" transform="translate(567 667.9) scale(1 1.1) translate(-567 -667.9)">1.2</text>
<line x1="569.1" y1="626.6" x2="573.6" y2="626.6" stroke="#000" stroke-width="1.3" stroke-linecap="butt"/>
<text x="567" y="630.0" font-family="'Liberation Sans', sans-serif" font-size="9" font-weight="bold" text-anchor="end" fill="#000" transform="translate(567 630.0) scale(1 1.1) translate(-567 -630.0)">1.4</text>
<line x1="569.1" y1="588.6999999999999" x2="573.6" y2="588.6999999999999" stroke="#000" stroke-width="1.3" stroke-linecap="butt"/>
<text x="567" y="592.0999999999999" font-family="'Liberation Sans', sans-serif" font-size="9" font-weight="bold" text-anchor="end" fill="#000" transform="translate(567 592.0999999999999) scale(1 1.1) translate(-567 -592.0999999999999)">1.6</text>
<line x1="573.6" y1="740.7" x2="573.6" y2="745.2" stroke="#000" stroke-width="1.3" stroke-linecap="butt"/>
<text x="573.6" y="754.7" font-family="'Liberation Sans', sans-serif" font-size="9" font-weight="bold" text-anchor="middle" fill="#000" transform="translate(573.6 754.7) scale(1 1.1) translate(-573.6 -754.7)">0</text>
<line x1="620.28" y1="740.7" x2="620.28" y2="745.2" stroke="#000" stroke-width="1.3" stroke-linecap="butt"/>
<text x="620.28" y="754.7" font-family="'Liberation Sans', sans-serif" font-size="9" font-weight="bold" text-anchor="middle" fill="#000" transform="translate(620.28 754.7) scale(1 1.1) translate(-620.28 -754.7)">200</text>
<line x1="666.96" y1="740.7" x2="666.96" y2="745.2" stroke="#000" stroke-width="1.3" stroke-linecap="butt"/>
<text x="666.96" y="754.7" font-family="'Liberation Sans', sans-serif" font-size="9" font-weight="bold" text-anchor="middle" fill="#000" transform="translate(666.96 754.7) scale(1 1.1) translate(-666.96 -754.7)">400</text>
<line x1="713.64" y1="740.7" x2="713.64" y2="745.2" stroke="#000" stroke-width="1.3" stroke-linecap="butt"/>
<text x="713.64" y="754.7" font-family="'Liberation Sans', sans-serif" font-size="9" font-weight="bold" text-anchor="middle" fill="#000" transform="translate(713.64 754.7) scale(1 1.1) translate(-713.64 -754.7)">600</text>
<line x1="760.32" y1="740.7" x2="760.32" y2="745.2" stroke="#000" stroke-width="1.3" stroke-linecap="butt"/>
<text x="760.32" y="754.7" font-family="'Liberation Sans', sans-serif" font-size="9" font-weight="bold" text-anchor="middle" fill="#000" transform="translate(760.32 754.7) scale(1 1.1) translate(-760.32 -754.7)">800</text>
<line x1="807.0" y1="740.7" x2="807.0" y2="745.2" stroke="#000" stroke-width="1.3" stroke-linecap="butt"/>
<text x="807.0" y="754.7" font-family="'Liberation Sans', sans-serif" font-size="9" font-weight="bold" text-anchor="middle" fill="#000" transform="translate(807.0 754.7) scale(1 1.1) translate(-807.0 -754.7)">1000</text>
<text x="0" y="0" font-family="'Liberation Sans', sans-serif" font-size="9.315" font-weight="bold" fill="#000" transform="translate(671.90 772.00) scale(1.1229 1)">Time(s)</text>
<text x="0" y="0" font-family="'Liberation Sans', sans-serif" font-size="11.644" font-weight="bold" fill="#000" transform="translate(549.70 715.70) rotate(-90) translate(-0.69 0) scale(0.8515 1)">Normalized ΔF340/380</text>
<polygon points="609.1,643.0 612.3,637.1 619.7,634.5 627.1,636.7 658.8,653.6 658.8,675.6 627.1,658.7 619.7,656.5 612.3,659.1 609.1,665.0" fill="#FCE6D4" stroke="none"/>
<polygon points="662.0,658.3 663.0,639.7 664.1,635.4 674.7,629.1 676.8,623.8 679.9,616.8 685.2,618.9 692.6,637.5 699.0,656.3 699.0,672.3 692.6,653.5 685.2,634.9 679.9,632.8 676.8,639.8 674.7,645.1 664.1,651.4 663.0,655.7 662.0,674.3" fill="#FCE6D4" stroke="none"/>
<polygon points="699.0,661.3 708.0,677.0 719.2,686.0 723.7,683.7 730.4,681.5 737.1,684.9 743.9,689.4 750.6,688.2 757.4,689.4 768.6,692.3 768.6,698.3 757.4,695.4 750.6,694.2 743.9,695.4 737.1,690.9 730.4,687.5 723.7,689.7 719.2,692.0 708.0,683.0 699.0,667.3" fill="#FDEEE2" stroke="none"/>
<polygon points="771.3,591.2 774.2,593.4 779.8,597.9 797.8,604.7 797.8,620.7 779.8,613.9 774.2,609.4 771.3,607.2" fill="#FCE6D4" stroke="none"/>
<polyline points="573.6,700.3 574.5,701.4 575.4,702.8 576.3,703.3 577.0,703.6 577.7,703.1 578.4,703.6 579.1,703.3 579.8,703.4 580.5,703.0 581.2,703.1 582.0,702.8 582.7,702.7 583.4,702.7 584.1,702.4 584.8,702.4 585.5,702.5 586.2,702.3 586.9,702.1 587.6,702.4 588.3,701.9 589.0,701.7 589.7,701.7 590.5,701.4 591.2,701.3 591.9,701.1 592.6,701.4 593.3,700.9 594.0,701.0 594.7,701.2 595.4,701.5 596.1,701.2 596.8,701.2 597.5,701.8 598.2,701.2 598.9,701.5 599.6,701.7 600.4,700.7 601.2,699.3 602.0,697.5 602.8,696.8 603.5,690.8 604.2,685.3 604.9,679.4 605.6,678.4 606.3,677.1 607.0,676.2 607.7,669.9 608.4,661.4 609.1,654.0 609.9,652.8 610.7,651.0 611.5,649.7 612.3,648.4 613.0,647.7 613.8,647.7 614.5,647.6 615.3,647.2 616.0,647.7 616.7,646.6 617.5,646.4 618.2,645.9 619.0,645.7 619.7,645.9 620.4,645.5 621.2,646.9 621.9,646.0 622.7,646.3 623.4,646.7 624.1,648.0 624.9,647.2 625.6,647.3 626.4,647.4 627.1,647.3 627.8,648.2 628.5,648.6 629.2,648.8 629.9,649.4 630.6,649.8 631.3,649.9 632.0,650.2 632.7,650.7 633.4,650.7 634.1,651.8 634.8,652.1 635.6,652.2 636.3,652.7 637.0,652.8 637.7,653.2 638.4,653.5 639.1,654.0 639.8,654.3 640.5,654.8 641.2,655.1 641.9,655.6 642.6,655.9 643.3,656.2 644.0,656.5 644.7,657.1 645.4,657.3 646.1,657.9 646.8,658.1 647.5,658.4 648.2,658.5 648.9,659.2 649.6,659.7 650.3,659.8 651.1,660.5 651.8,661.0 652.5,661.5 653.2,661.4 653.9,662.1 654.6,662.3 655.3,662.7 656.0,663.0 656.7,663.4 657.4,664.0 658.1,664.5 658.8,664.6 659.6,665.8 660.4,665.3 661.2,666.0 662.0,666.3 663.0,647.7 664.1,643.3 664.8,643.0 665.5,643.6 666.2,642.2 666.9,641.3 667.6,641.1 668.3,641.0 669.0,640.2 669.8,639.8 670.5,639.5 671.2,639.1 671.9,638.8 672.6,638.1 673.3,637.8 674.0,637.7 674.7,637.0 675.8,634.3 676.8,632.3 677.6,630.3 678.3,628.2 679.1,626.4 679.9,624.8 680.7,625.0 681.4,625.4 682.2,625.6 682.9,625.9 683.7,626.3 684.4,626.6 685.2,627.2 685.9,628.6 686.7,630.9 687.4,632.9 688.2,634.1 688.9,636.2 689.6,638.3 690.4,640.1 691.1,641.7 691.9,643.8 692.6,645.3 693.3,648.2 694.0,649.3 694.7,651.9 695.4,654.2 696.2,656.0 696.9,658.0 697.6,659.9 698.3,662.1 699.0,664.4 699.8,666.8 700.5,667.2 701.2,668.1 702.0,669.6 702.8,671.0 703.5,672.3 704.2,673.4 705.0,674.9 705.8,676.2 706.5,677.4 707.2,678.7 708.0,680.0 708.7,679.6 709.4,681.1 710.1,681.4 710.8,681.9 711.5,682.7 712.2,683.8 712.9,683.8 713.6,684.4 714.3,684.1 715.0,685.7 715.7,686.3 716.4,686.7 717.1,687.1 717.8,687.8 718.5,688.7 719.2,689.1 720.0,688.2 720.7,688.2 721.5,687.8 722.2,687.7 723.0,687.0 723.7,686.7 724.4,686.4 725.2,686.1 725.9,686.0 726.7,685.9 727.4,685.5 728.2,685.6 728.9,685.0 729.7,684.5 730.4,684.8 731.1,683.3 731.9,685.1 732.6,685.3 733.4,685.9 734.1,686.5 734.9,686.7 735.6,687.3 736.4,687.3 737.1,687.6 737.9,688.2 738.6,688.9 739.4,689.0 740.1,688.6 740.9,689.4 741.6,690.9 742.4,691.3 743.1,691.5 743.9,692.5 744.6,692.4 745.4,692.2 746.1,692.1 746.9,691.8 747.6,690.5 748.4,691.3 749.1,691.8 749.9,689.9 750.6,691.3 751.4,691.2 752.1,691.2 752.9,691.1 753.6,691.8 754.4,691.8 755.1,692.1 755.9,692.1 756.6,692.0 757.4,692.2 758.1,692.2 758.8,691.6 759.5,692.9 760.2,693.3 760.9,693.4 761.6,693.7 762.3,693.7 763.0,693.8 763.7,694.1 764.4,694.6 765.1,694.6 765.8,694.2 766.5,694.8 767.2,695.1 767.9,695.2 768.6,695.5 769.4,666.4 770.2,637.5 771.3,599.3 772.0,599.7 772.8,600.4 773.5,600.9 774.2,601.6 775.0,603.5 775.8,602.8 776.6,603.0 777.4,605.1 778.2,604.4 779.0,605.3 779.8,605.8 780.5,605.8 781.2,607.3 782.0,608.5 782.7,607.1 783.4,607.7 784.1,607.7 784.8,607.9 785.6,608.8 786.3,608.5 787.0,608.6 787.7,609.0 788.4,609.2 789.2,609.2 789.9,609.7 790.6,609.7 791.3,610.4 792.0,610.3 792.8,611.1 793.5,611.0 794.2,611.3 794.9,611.5 795.6,612.0 796.4,612.0 797.1,612.5 797.8,612.7" fill="none" stroke="#F59A42" stroke-width="1.7" stroke-linejoin="round" stroke-linecap="round"/>
<text x="0" y="0" font-family="'Liberation Serif', serif" font-size="12.424" font-weight="bold" fill="#000" transform="translate(577.77 622.70) scale(1.0363 1)">100 µM DMI</text>
<line x1="600.3" y1="628.3" x2="627" y2="628.3" stroke="#000" stroke-width="2.3" stroke-linecap="butt"/>
<text x="0" y="0" font-family="'Liberation Serif', serif" font-size="12.424" font-weight="bold" fill="#000" transform="translate(637.35 600.10) scale(1.0542 1)">100 µM AITC</text>
<line x1="654" y1="607.9" x2="697" y2="607.9" stroke="#000" stroke-width="2.3" stroke-linecap="butt"/>
<text x="0" y="0" font-family="'Liberation Serif', serif" font-size="12.121" font-weight="bold" fill="#000" transform="translate(719.57 647.60) scale(1.0638 1)">10 µM</text>
<text x="0" y="0" font-family="'Liberation Serif', serif" font-size="12.319" font-weight="bold" fill="#000" transform="translate(712.26 662.70) scale(1.0362 1)">Capsaicin</text>
<line x1="719.6" y1="668.5" x2="762.4" y2="668.5" stroke="#000" stroke-width="2.3" stroke-linecap="butt"/>
<text x="0" y="0" font-family="'Liberation Serif', serif" font-size="12.319" font-weight="bold" fill="#000" transform="translate(764.68 570.40) scale(1.0527 1)">56mM KCl</text>
<line x1="765.5" y1="575.8" x2="827.4" y2="575.8" stroke="#000" stroke-width="2.3" stroke-linecap="butt"/>
<text x="0" y="0" font-family="'Liberation Serif', serif" font-size="32.000" font-weight="bold" fill="#000" transform="translate(836.39 564.80) scale(0.9586 1)">H</text>
<line x1="888.4" y1="585.3" x2="888.4" y2="738.9499999999999" stroke="#000" stroke-width="1.3" stroke-linecap="butt"/>
<line x1="887.75" y1="738.3" x2="1030.4" y2="738.3" stroke="#000" stroke-width="1.3" stroke-linecap="butt"/>
<line x1="884.1" y1="738.3" x2="888.4" y2="738.3" stroke="#000" stroke-width="1.3" stroke-linecap="butt"/>
<text x="882.1" y="741.6999999999999" font-family="'Liberation Sans', sans-serif" font-size="9" font-weight="bold" text-anchor="end" fill="#000" transform="translate(882.1 741.6999999999999) scale(1 1.1) translate(-882.1 -741.6999999999999)">0</text>
<line x1="884.1" y1="707.6999999999999" x2="888.4" y2="707.6999999999999" stroke="#000" stroke-width="1.3" stroke-linecap="butt"/>
<text x="882.1" y="711.0999999999999" font-family="'Liberation Sans', sans-serif" font-size="9" font-weight="bold" text-anchor="end" fill="#000" transform="translate(882.1 711.0999999999999) scale(1 1.1) translate(-882.1 -711.0999999999999)">20</text>
<line x1="884.1" y1="677.0999999999999" x2="888.4" y2="677.0999999999999" stroke="#000" stroke-width="1.3" stroke-linecap="butt"/>
<text x="882.1" y="680.4999999999999" font-family="'Liberation Sans', sans-serif" font-size="9" font-weight="bold" text-anchor="end" fill="#000" transform="translate(882.1 680.4999999999999) scale(1 1.1) translate(-882.1 -680.4999999999999)">40</text>
<line x1="884.1" y1="646.5" x2="888.4" y2="646.5" stroke="#000" stroke-width="1.3" stroke-linecap="butt"/>
<text x="882.1" y="649.9" font-family="'Liberation Sans', sans-serif" font-size="9" font-weight="bold" text-anchor="end" fill="#000" transform="translate(882.1 649.9) scale(1 1.1) translate(-882.1 -649.9)">60</text>
<line x1="884.1" y1="615.9" x2="888.4" y2="615.9" stroke="#000" stroke-width="1.3" stroke-linecap="butt"/>
<text x="882.1" y="619.3" font-family="'Liberation Sans', sans-serif" font-size="9" font-weight="bold" text-anchor="end" fill="#000" transform="translate(882.1 619.3) scale(1 1.1) translate(-882.1 -619.3)">80</text>
<line x1="884.1" y1="585.3" x2="888.4" y2="585.3" stroke="#000" stroke-width="1.3" stroke-linecap="butt"/>
<text x="882.1" y="588.6999999999999" font-family="'Liberation Sans', sans-serif" font-size="9" font-weight="bold" text-anchor="end" fill="#000" transform="translate(882.1 588.6999999999999) scale(1 1.1) translate(-882.1 -588.6999999999999)">100</text>
<line x1="910.4" y1="738.3" x2="910.4" y2="742.6" stroke="#000" stroke-width="1.3" stroke-linecap="butt"/>
<text x="910.4" y="754" font-family="'Liberation Sans', sans-serif" font-size="9" font-weight="bold" text-anchor="middle" fill="#000" transform="translate(910.4 754) scale(1 1.1) translate(-910.4 -754)">Veh</text>
<line x1="942.4" y1="738.3" x2="942.4" y2="742.6" stroke="#000" stroke-width="1.3" stroke-linecap="butt"/>
<text x="942.4" y="754" font-family="'Liberation Sans', sans-serif" font-size="9" font-weight="bold" text-anchor="middle" fill="#000" transform="translate(942.4 754) scale(1 1.1) translate(-942.4 -754)">DMI</text>
<line x1="975.7" y1="738.3" x2="975.7" y2="742.6" stroke="#000" stroke-width="1.3" stroke-linecap="butt"/>
<text x="975.7" y="754" font-family="'Liberation Sans', sans-serif" font-size="9" font-weight="bold" text-anchor="middle" fill="#000" transform="translate(975.7 754) scale(1 1.1) translate(-975.7 -754)">AITC</text>
<line x1="1007.8" y1="738.3" x2="1007.8" y2="742.6" stroke="#000" stroke-width="1.3" stroke-linecap="butt"/>
<text x="1007.8" y="754" font-family="'Liberation Sans', sans-serif" font-size="9" font-weight="bold" text-anchor="middle" fill="#000" transform="translate(1007.8 754) scale(1 1.1) translate(-1007.8 -754)">CAP</text>
<text x="0" y="0" font-family="'Liberation Sans', sans-serif" font-size="10.137" font-weight="bold" fill="#000" transform="translate(861.70 747.10) rotate(-90) translate(-0.69 0) scale(0.9740 1)">Normalized % of response amplitude</text>
<path d="M933.50,738.3 L933.50,670.70 L952.30,670.70 L952.30,738.3" fill="none" stroke="#F00" stroke-width="1.8"/>
<path d="M966.40,738.3 L966.40,652.00 L984.30,652.00 L984.30,738.3" fill="none" stroke="#0C0" stroke-width="1.8"/>
<path d="M998.60,738.3 L998.60,728.50 L1017.20,728.50 L1017.20,738.3" fill="none" stroke="#B0F" stroke-width="1.8"/>
<line x1="887.75" y1="738.3" x2="1030.4" y2="738.3" stroke="#000" stroke-width="1.3" stroke-linecap="butt"/>
<line x1="903.1" y1="738.3" x2="917.1" y2="738.3" stroke="#00F" stroke-width="1.6" stroke-linecap="butt"/>
<circle cx="903.1" cy="738.3" r="1.9" fill="none" stroke="#00F" stroke-width="1.3"/>
<circle cx="910.2" cy="738.3" r="1.9" fill="none" stroke="#00F" stroke-width="1.3"/>
<circle cx="917.1" cy="738.3" r="1.9" fill="none" stroke="#00F" stroke-width="1.3"/>
<line x1="942.9" y1="663.9" x2="942.9" y2="674.2" stroke="#F00" stroke-width="1.2" stroke-linecap="butt"/>
<line x1="937.7" y1="663.9" x2="948.1" y2="663.9" stroke="#F00" stroke-width="1.3" stroke-linecap="butt"/>
<line x1="937.7" y1="674.2" x2="948.1" y2="674.2" stroke="#F00" stroke-width="1.3" stroke-linecap="butt"/>
<circle cx="942.9" cy="658.4" r="2.1" fill="none" stroke="#F00" stroke-width="1.3"/>
<circle cx="942.9" cy="672.7" r="2.1" fill="none" stroke="#F00" stroke-width="1.3"/>
<circle cx="942.9" cy="676.9" r="2.1" fill="none" stroke="#F00" stroke-width="1.3"/>
<line x1="975.3" y1="644" x2="975.3" y2="656.5" stroke="#0C0" stroke-width="1.2" stroke-linecap="butt"/>
<line x1="970.2" y1="644" x2="980.5" y2="644" stroke="#0C0" stroke-width="1.3" stroke-linecap="butt"/>
<line x1="970.2" y1="656.5" x2="980.5" y2="656.5" stroke="#0C0" stroke-width="1.3" stroke-linecap="butt"/>
<circle cx="975.3" cy="638.5" r="2.1" fill="none" stroke="#0C0" stroke-width="1.3"/>
<circle cx="975.3" cy="651.8" r="2.1" fill="none" stroke="#0C0" stroke-width="1.3"/>
<circle cx="975.3" cy="660.2" r="2.1" fill="none" stroke="#0C0" stroke-width="1.3"/>
<line x1="1002" y1="725.1" x2="1013" y2="725.1" stroke="#B0F" stroke-width="1.2" stroke-linecap="butt"/>
<circle cx="1000.4" cy="730.2" r="2.1" fill="none" stroke="#B0F" stroke-width="1.3"/>
<circle cx="1007.7" cy="722.9" r="2.1" fill="none" stroke="#B0F" stroke-width="1.3"/>
<circle cx="1015.1" cy="726.5" r="2.1" fill="none" stroke="#B0F" stroke-width="1.3"/>
<line x1="909.4" y1="610.3" x2="1008.6" y2="610.3" stroke="#000" stroke-width="1.8" stroke-linecap="butt"/>
<text x="0" y="0" font-family="'Liberation Sans', sans-serif" font-size="10.000" font-weight="normal" fill="#000" transform="translate(953.03 604.80) scale(1.0947 1)">ns</text>
<line x1="909.4" y1="630.5" x2="975.5" y2="630.5" stroke="#000" stroke-width="1.8" stroke-linecap="butt"/>
<text x="0" y="0" font-family="'Liberation Sans', sans-serif" font-size="10.299" font-weight="bold" fill="#000" transform="translate(933.89 624.70) scale(1.0187 1)">###</text>
<line x1="909.7" y1="648.4" x2="942.9" y2="648.4" stroke="#000" stroke-width="1.8" stroke-linecap="butt"/>
<polygon points="919.90,636.70 920.70,638.41 922.58,638.25 921.50,639.80 922.58,641.35 920.70,641.19 919.90,642.90 919.10,641.19 917.22,641.35 918.30,639.80 917.22,638.25 919.10,638.41" fill="#000"/>
<polygon points="926.70,636.70 927.50,638.41 929.38,638.25 928.30,639.80 929.38,641.35 927.50,641.19 926.70,642.90 925.90,641.19 924.02,641.35 925.10,639.80 924.02,638.25 925.90,638.41" fill="#000"/>
<polygon points="933.50,636.70 934.30,638.41 936.18,638.25 935.10,639.80 936.18,641.35 934.30,641.19 933.50,642.90 932.70,641.19 930.82,641.35 931.90,639.80 930.82,638.25 932.70,638.41" fill="#000"/>
</svg>
</body></html>
